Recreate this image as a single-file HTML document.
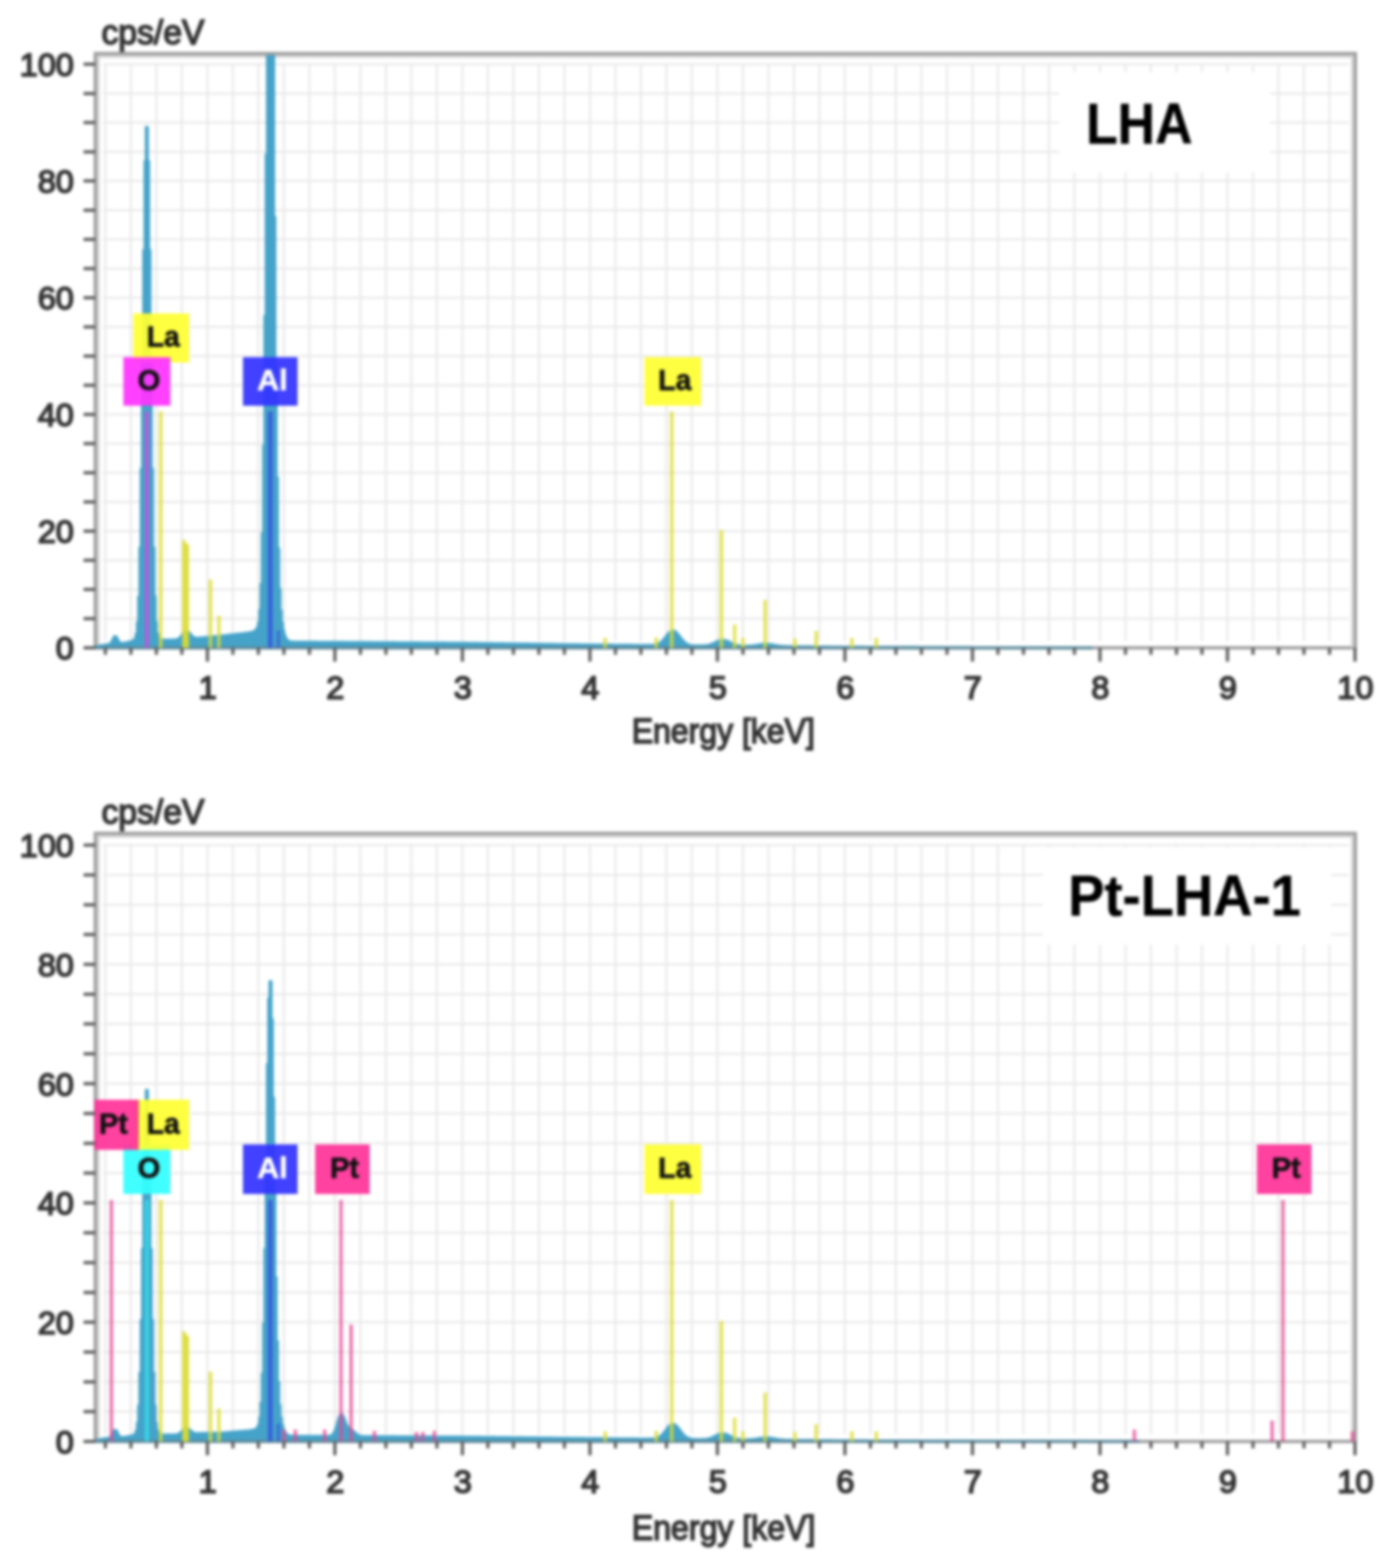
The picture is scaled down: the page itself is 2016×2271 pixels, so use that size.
<!DOCTYPE html>
<html><head><meta charset="utf-8"><title>EDS spectra</title>
<style>html,body{margin:0;padding:0;background:#fff;overflow:hidden;}svg{display:block;filter:blur(2.20px);}</style>
</head><body>
<svg width="2016" height="2271" viewBox="0 0 2016 2271" font-family="Liberation Sans, Arial, sans-serif" fill="#333333">
<style>text{stroke:#333333;stroke-width:2.3px;} text.lb{stroke-width:0.9px;} text.tt{stroke:#000;stroke-width:0.6px;}</style>
<rect width="100%" height="100%" fill="#fff"/>
<clipPath id="clip_top"><rect x="136.5" y="79.7" width="1826.5" height="860.8"/></clipPath>
<path d="M136.0,938.3H1965.0" stroke="#9a9a9a" stroke-width="4.5" fill="none"/>
<path d="M149.6,896.0H1953.5M149.6,853.8H1953.5M149.6,811.5H1953.5M149.6,769.3H1953.5M149.6,727.0H1953.5M149.6,684.7H1953.5M149.6,642.5H1953.5M149.6,600.2H1953.5M149.6,558.0H1953.5M149.6,515.7H1953.5M149.6,473.4H1953.5M149.6,431.2H1953.5M149.6,388.9H1953.5M149.6,346.7H1953.5M149.6,304.4H1953.5M149.6,262.1H1953.5M149.6,219.9H1953.5M149.6,177.6H1953.5M149.6,135.4H1953.5M149.6,93.1H1953.5M152.6,91.1V928.3M189.6,91.1V928.3M226.5,91.1V928.3M263.4,91.1V928.3M300.4,91.1V928.3M337.3,91.1V928.3M374.2,91.1V928.3M411.2,91.1V928.3M448.1,91.1V928.3M485.0,91.1V928.3M522.0,91.1V928.3M558.9,91.1V928.3M595.8,91.1V928.3M632.8,91.1V928.3M669.7,91.1V928.3M706.6,91.1V928.3M743.6,91.1V928.3M780.5,91.1V928.3M817.4,91.1V928.3M854.4,91.1V928.3M891.3,91.1V928.3M928.2,91.1V928.3M965.2,91.1V928.3M1002.1,91.1V928.3M1039.0,91.1V928.3M1076.0,91.1V928.3M1112.9,91.1V928.3M1149.9,91.1V928.3M1186.8,91.1V928.3M1223.7,91.1V928.3M1260.7,91.1V928.3M1297.6,91.1V928.3M1334.5,91.1V928.3M1371.5,91.1V928.3M1408.4,91.1V928.3M1445.3,91.1V928.3M1482.3,91.1V928.3M1519.2,91.1V928.3M1556.1,91.1V928.3M1593.1,91.1V928.3M1630.0,91.1V928.3M1666.9,91.1V928.3M1703.9,91.1V928.3M1740.8,91.1V928.3M1777.7,91.1V928.3M1814.7,91.1V928.3M1851.6,91.1V928.3M1888.5,91.1V928.3M1925.5,91.1V928.3" stroke="#e9e9e9" stroke-width="3.0" fill="none"/>
<rect x="1534" y="105" width="306" height="145" fill="#fff"/>
<path d="M142.2,938.3V81.8H1958.8V938.3" stroke="#d2d2d2" stroke-width="4.0" fill="none"/>
<path d="M138.0,938.3V77.5H1963.0V938.3" stroke="#9a9a9a" stroke-width="4.5" fill="none"/>
<g clip-path="url(#clip_top)">
<path d="M136.9,938.3 L136.94,937.45 L137.86,937.45 L137.86,937.06 L139.71,937.06 L139.71,936.66 L141.55,936.66 L141.55,936.26 L143.40,936.26 L143.40,935.86 L145.25,935.86 L145.25,935.47 L147.09,935.47 L147.09,935.07 L148.94,935.07 L148.94,934.67 L150.79,934.67 L150.79,934.27 L152.63,934.27 L152.63,933.99 L154.48,933.99 L154.48,933.81 L156.33,933.81 L156.33,933.60 L158.17,933.60 L158.17,933.13 L160.02,933.13 L160.02,931.83 L161.87,931.83 L161.87,928.87 L163.71,928.87 L163.71,924.68 L165.56,924.68 L165.56,921.90 L167.41,921.90 L167.41,922.94 L169.25,922.94 L169.25,926.63 L171.10,926.63 L171.10,929.92 L172.95,929.92 L172.95,931.48 L174.79,931.48 L174.79,931.84 L176.64,931.84 L176.64,931.78 L178.49,931.78 L178.49,931.62 L180.33,931.62 L180.33,931.33 L182.18,931.33 L182.18,930.90 L184.03,930.90 L184.03,930.48 L185.87,930.48 L185.87,930.06 L187.72,930.06 L187.72,929.63 L189.57,929.63 L189.57,929.18 L191.41,929.18 L191.41,928.61 L193.26,928.61 L193.26,927.59 L195.11,927.59 L195.11,925.07 L196.95,925.07 L196.95,918.31 L198.80,918.31 L198.80,901.51 L200.65,901.51 L200.65,864.38 L202.49,864.38 L202.49,793.50 L204.34,793.50 L204.34,679.27 L206.19,679.27 L206.19,526.44 L208.03,526.44 L208.03,362.48 L209.88,362.48 L209.88,233.45 L211.73,233.45 L211.73,184.17 L213.58,184.17 L213.58,233.39 L215.42,233.39 L215.42,362.37 L217.27,362.37 L217.27,526.27 L219.12,526.27 L219.12,679.04 L220.96,679.04 L220.96,793.22 L222.81,793.22 L222.81,864.04 L224.66,864.04 L224.66,901.12 L226.50,901.12 L226.50,917.67 L228.35,917.67 L228.35,924.02 L230.20,924.02 L230.20,926.11 L232.04,926.11 L232.04,926.70 L233.89,926.70 L233.89,926.85 L235.74,926.85 L235.74,926.88 L237.58,926.88 L237.58,926.89 L239.43,926.89 L239.43,926.89 L241.28,926.89 L241.28,926.89 L243.12,926.89 L243.12,926.89 L244.97,926.89 L244.97,926.89 L246.82,926.89 L246.82,926.89 L248.66,926.89 L248.66,926.88 L250.51,926.88 L250.51,926.87 L252.36,926.87 L252.36,926.83 L254.20,926.83 L254.20,926.63 L256.05,926.63 L256.05,926.19 L257.90,926.19 L257.90,925.41 L259.74,925.41 L259.74,924.14 L261.59,924.14 L261.59,922.26 L263.44,922.26 L263.44,919.89 L265.28,919.89 L265.28,917.41 L267.13,917.41 L267.13,915.47 L268.98,915.47 L268.98,914.64 L270.82,914.64 L270.82,915.18 L272.67,915.18 L272.67,916.82 L274.52,916.82 L274.52,919.00 L276.36,919.00 L276.36,921.08 L278.21,921.08 L278.21,922.66 L280.06,922.66 L280.06,923.64 L281.90,923.64 L281.90,924.11 L283.75,924.11 L283.75,924.26 L285.60,924.26 L285.60,924.24 L287.44,924.24 L287.44,924.13 L289.29,924.13 L289.29,924.00 L291.14,924.00 L291.14,923.85 L292.98,923.85 L292.98,923.68 L294.83,923.68 L294.83,923.51 L296.68,923.51 L296.68,923.34 L298.52,923.34 L298.52,923.17 L300.37,923.17 L300.37,923.00 L302.22,923.00 L302.22,922.83 L304.06,922.83 L304.06,922.66 L305.91,922.66 L305.91,922.49 L307.76,922.49 L307.76,922.33 L309.60,922.33 L309.60,922.16 L311.45,922.16 L311.45,921.99 L313.30,921.99 L313.30,921.82 L315.14,921.82 L315.14,921.65 L316.99,921.65 L316.99,921.48 L318.84,921.48 L318.84,921.29 L320.68,921.29 L320.68,921.08 L322.53,921.08 L322.53,920.87 L324.38,920.87 L324.38,920.66 L326.22,920.66 L326.22,920.45 L328.07,920.45 L328.07,920.23 L329.92,920.23 L329.92,920.02 L331.76,920.02 L331.76,919.81 L333.61,919.81 L333.61,919.60 L335.46,919.60 L335.46,919.39 L337.30,919.39 L337.30,919.18 L339.15,919.18 L339.15,918.97 L341.00,918.97 L341.00,918.75 L342.84,918.75 L342.84,918.54 L344.69,918.54 L344.69,918.33 L346.54,918.33 L346.54,918.12 L348.38,918.12 L348.38,917.91 L350.23,917.91 L350.23,917.70 L352.08,917.70 L352.08,917.49 L353.92,917.49 L353.92,917.27 L355.77,917.27 L355.77,917.06 L357.62,917.06 L357.62,916.84 L359.46,916.84 L359.46,916.61 L361.31,916.61 L361.31,916.36 L363.16,916.36 L363.16,916.05 L365.00,916.05 L365.00,915.62 L366.85,915.62 L366.85,914.96 L368.70,914.96 L368.70,913.85 L370.54,913.85 L370.54,912.23 L372.39,912.23 L372.39,909.06 L374.24,909.06 L374.24,901.39 L376.08,901.39 L376.08,883.78 L377.93,883.78 L377.93,845.95 L379.78,845.95 L379.78,772.22 L381.62,772.22 L381.62,645.42 L383.47,645.42 L383.47,457.53 L385.32,457.53 L385.32,224.06 L387.16,224.06 L387.16,77.50 L389.01,77.50 L389.01,77.50 L390.86,77.50 L390.86,77.50 L392.70,77.50 L392.70,77.50 L394.55,77.50 L394.55,77.50 L396.40,77.50 L396.40,314.19 L398.25,314.19 L398.25,530.28 L400.09,530.28 L400.09,691.55 L401.94,691.55 L401.94,794.44 L403.79,794.44 L403.79,852.97 L405.63,852.97 L405.63,884.61 L407.48,884.61 L407.48,902.34 L409.33,902.34 L409.33,913.31 L411.17,913.31 L411.17,920.31 L413.02,920.31 L413.02,924.63 L414.87,924.63 L414.87,927.24 L416.71,927.24 L416.71,928.68 L418.56,928.68 L418.56,929.39 L420.41,929.39 L420.41,929.72 L422.25,929.72 L422.25,929.85 L424.10,929.85 L424.10,929.91 L425.95,929.91 L425.95,929.93 L427.79,929.93 L427.79,929.95 L429.64,929.95 L429.64,929.96 L431.49,929.96 L431.49,929.97 L433.33,929.97 L433.33,929.98 L435.18,929.98 L435.18,929.99 L437.03,929.99 L437.03,930.00 L438.87,930.00 L438.87,930.01 L440.72,930.01 L440.72,930.02 L442.57,930.02 L442.57,930.03 L444.41,930.03 L444.41,930.04 L446.26,930.04 L446.26,930.05 L448.11,930.05 L448.11,930.06 L449.95,930.06 L449.95,930.08 L451.80,930.08 L451.80,930.09 L453.65,930.09 L453.65,930.10 L455.49,930.10 L455.49,930.11 L457.34,930.11 L457.34,930.12 L459.19,930.12 L459.19,930.13 L461.03,930.13 L461.03,930.14 L462.88,930.14 L462.88,930.15 L464.73,930.15 L464.73,930.16 L466.57,930.16 L466.57,930.17 L468.42,930.17 L468.42,930.18 L470.27,930.18 L470.27,930.19 L472.11,930.19 L472.11,930.20 L473.96,930.20 L473.96,930.21 L475.81,930.21 L475.81,930.22 L477.65,930.22 L477.65,930.23 L479.50,930.23 L479.50,930.24 L481.35,930.24 L481.35,930.25 L483.19,930.25 L483.19,930.27 L485.04,930.27 L485.04,930.28 L486.89,930.28 L486.89,930.29 L488.73,930.29 L488.73,930.30 L490.58,930.30 L490.58,930.31 L492.43,930.31 L492.43,930.33 L494.27,930.33 L494.27,930.34 L496.12,930.34 L496.12,930.35 L497.97,930.35 L497.97,930.37 L499.81,930.37 L499.81,930.38 L501.66,930.38 L501.66,930.39 L503.51,930.39 L503.51,930.40 L505.35,930.40 L505.35,930.42 L507.20,930.42 L507.20,930.43 L509.05,930.43 L509.05,930.44 L510.89,930.44 L510.89,930.45 L512.74,930.45 L512.74,930.47 L514.59,930.47 L514.59,930.48 L516.43,930.48 L516.43,930.49 L518.28,930.49 L518.28,930.51 L520.13,930.51 L520.13,930.52 L521.97,930.52 L521.97,930.53 L523.82,930.53 L523.82,930.54 L525.67,930.54 L525.67,930.56 L527.51,930.56 L527.51,930.57 L529.36,930.57 L529.36,930.58 L531.21,930.58 L531.21,930.59 L533.05,930.59 L533.05,930.61 L534.90,930.61 L534.90,930.62 L536.75,930.62 L536.75,930.63 L538.59,930.63 L538.59,930.64 L540.44,930.64 L540.44,930.66 L542.29,930.66 L542.29,930.67 L544.13,930.67 L544.13,930.68 L545.98,930.68 L545.98,930.70 L547.83,930.70 L547.83,930.71 L549.67,930.71 L549.67,930.72 L551.52,930.72 L551.52,930.73 L553.37,930.73 L553.37,930.75 L555.21,930.75 L555.21,930.76 L557.06,930.76 L557.06,930.77 L558.91,930.77 L558.91,930.78 L560.75,930.78 L560.75,930.80 L562.60,930.80 L562.60,930.81 L564.45,930.81 L564.45,930.82 L566.29,930.82 L566.29,930.83 L568.14,930.83 L568.14,930.85 L569.99,930.85 L569.99,930.86 L571.83,930.86 L571.83,930.87 L573.68,930.87 L573.68,930.89 L575.53,930.89 L575.53,930.90 L577.38,930.90 L577.38,930.91 L579.22,930.91 L579.22,930.92 L581.07,930.92 L581.07,930.94 L582.92,930.94 L582.92,930.95 L584.76,930.95 L584.76,930.96 L586.61,930.96 L586.61,930.97 L588.46,930.97 L588.46,930.99 L590.30,930.99 L590.30,931.00 L592.15,931.00 L592.15,931.01 L594.00,931.01 L594.00,931.02 L595.84,931.02 L595.84,931.04 L597.69,931.04 L597.69,931.05 L599.54,931.05 L599.54,931.06 L601.38,931.06 L601.38,931.08 L603.23,931.08 L603.23,931.09 L605.08,931.09 L605.08,931.10 L606.92,931.10 L606.92,931.11 L608.77,931.11 L608.77,931.13 L610.62,931.13 L610.62,931.14 L612.46,931.14 L612.46,931.15 L614.31,931.15 L614.31,931.16 L616.16,931.16 L616.16,931.18 L618.00,931.18 L618.00,931.19 L619.85,931.19 L619.85,931.20 L621.70,931.20 L621.70,931.22 L623.54,931.22 L623.54,931.23 L625.39,931.23 L625.39,931.24 L627.24,931.24 L627.24,931.25 L629.08,931.25 L629.08,931.27 L630.93,931.27 L630.93,931.28 L632.78,931.28 L632.78,931.29 L634.62,931.29 L634.62,931.30 L636.47,931.30 L636.47,931.32 L638.32,931.32 L638.32,931.33 L640.16,931.33 L640.16,931.34 L642.01,931.34 L642.01,931.35 L643.86,931.35 L643.86,931.37 L645.70,931.37 L645.70,931.38 L647.55,931.38 L647.55,931.39 L649.40,931.39 L649.40,931.41 L651.24,931.41 L651.24,931.42 L653.09,931.42 L653.09,931.43 L654.94,931.43 L654.94,931.44 L656.78,931.44 L656.78,931.46 L658.63,931.46 L658.63,931.47 L660.48,931.47 L660.48,931.48 L662.32,931.48 L662.32,931.49 L664.17,931.49 L664.17,931.51 L666.02,931.51 L666.02,931.52 L667.86,931.52 L667.86,931.53 L669.71,931.53 L669.71,931.55 L671.56,931.55 L671.56,931.58 L673.40,931.58 L673.40,931.60 L675.25,931.60 L675.25,931.63 L677.10,931.63 L677.10,931.65 L678.94,931.65 L678.94,931.68 L680.79,931.68 L680.79,931.70 L682.64,931.70 L682.64,931.73 L684.48,931.73 L684.48,931.75 L686.33,931.75 L686.33,931.78 L688.18,931.78 L688.18,931.80 L690.02,931.80 L690.02,931.83 L691.87,931.83 L691.87,931.86 L693.72,931.86 L693.72,931.88 L695.56,931.88 L695.56,931.91 L697.41,931.91 L697.41,931.93 L699.26,931.93 L699.26,931.96 L701.10,931.96 L701.10,931.98 L702.95,931.98 L702.95,932.01 L704.80,932.01 L704.80,932.03 L706.64,932.03 L706.64,932.06 L708.49,932.06 L708.49,932.08 L710.34,932.08 L710.34,932.11 L712.18,932.11 L712.18,932.13 L714.03,932.13 L714.03,932.16 L715.88,932.16 L715.88,932.18 L717.72,932.18 L717.72,932.21 L719.57,932.21 L719.57,932.24 L721.42,932.24 L721.42,932.26 L723.26,932.26 L723.26,932.29 L725.11,932.29 L725.11,932.31 L726.96,932.31 L726.96,932.34 L728.80,932.34 L728.80,932.36 L730.65,932.36 L730.65,932.39 L732.50,932.39 L732.50,932.41 L734.34,932.41 L734.34,932.44 L736.19,932.44 L736.19,932.46 L738.04,932.46 L738.04,932.49 L739.88,932.49 L739.88,932.51 L741.73,932.51 L741.73,932.54 L743.58,932.54 L743.58,932.57 L745.42,932.57 L745.42,932.59 L747.27,932.59 L747.27,932.62 L749.12,932.62 L749.12,932.64 L750.96,932.64 L750.96,932.67 L752.81,932.67 L752.81,932.69 L754.66,932.69 L754.66,932.72 L756.50,932.72 L756.50,932.74 L758.35,932.74 L758.35,932.77 L760.20,932.77 L760.20,932.79 L762.04,932.79 L762.04,932.82 L763.89,932.82 L763.89,932.84 L765.74,932.84 L765.74,932.87 L767.59,932.87 L767.59,932.89 L769.43,932.89 L769.43,932.92 L771.28,932.92 L771.28,932.95 L773.13,932.95 L773.13,932.97 L774.97,932.97 L774.97,933.00 L776.82,933.00 L776.82,933.02 L778.67,933.02 L778.67,933.05 L780.51,933.05 L780.51,933.07 L782.36,933.07 L782.36,933.10 L784.21,933.10 L784.21,933.12 L786.05,933.12 L786.05,933.15 L787.90,933.15 L787.90,933.17 L789.75,933.17 L789.75,933.20 L791.59,933.20 L791.59,933.22 L793.44,933.22 L793.44,933.25 L795.29,933.25 L795.29,933.28 L797.13,933.28 L797.13,933.30 L798.98,933.30 L798.98,933.33 L800.83,933.33 L800.83,933.35 L802.67,933.35 L802.67,933.38 L804.52,933.38 L804.52,933.40 L806.37,933.40 L806.37,933.43 L808.21,933.43 L808.21,933.45 L810.06,933.45 L810.06,933.48 L811.91,933.48 L811.91,933.50 L813.75,933.50 L813.75,933.53 L815.60,933.53 L815.60,933.55 L817.45,933.55 L817.45,933.58 L819.29,933.58 L819.29,933.60 L821.14,933.60 L821.14,933.63 L822.99,933.63 L822.99,933.66 L824.83,933.66 L824.83,933.68 L826.68,933.68 L826.68,933.71 L828.53,933.71 L828.53,933.73 L830.37,933.73 L830.37,933.76 L832.22,933.76 L832.22,933.78 L834.07,933.78 L834.07,933.81 L835.91,933.81 L835.91,933.83 L837.76,933.83 L837.76,933.86 L839.61,933.86 L839.61,933.88 L841.45,933.88 L841.45,933.91 L843.30,933.91 L843.30,933.93 L845.15,933.93 L845.15,933.96 L846.99,933.96 L846.99,933.99 L848.84,933.99 L848.84,934.01 L850.69,934.01 L850.69,934.04 L852.53,934.04 L852.53,934.06 L854.38,934.06 L854.38,934.08 L856.23,934.08 L856.23,934.10 L858.07,934.10 L858.07,934.12 L859.92,934.12 L859.92,934.13 L861.77,934.13 L861.77,934.15 L863.61,934.15 L863.61,934.17 L865.46,934.17 L865.46,934.18 L867.31,934.18 L867.31,934.20 L869.15,934.20 L869.15,934.22 L871.00,934.22 L871.00,934.23 L872.85,934.23 L872.85,934.25 L874.69,934.25 L874.69,934.27 L876.54,934.27 L876.54,934.29 L878.39,934.29 L878.39,934.30 L880.23,934.30 L880.23,934.32 L882.08,934.32 L882.08,934.34 L883.93,934.34 L883.93,934.35 L885.77,934.35 L885.77,934.37 L887.62,934.37 L887.62,934.39 L889.47,934.39 L889.47,934.40 L891.31,934.40 L891.31,934.42 L893.16,934.42 L893.16,934.44 L895.01,934.44 L895.01,934.45 L896.85,934.45 L896.85,934.47 L898.70,934.47 L898.70,934.49 L900.55,934.49 L900.55,934.51 L902.39,934.51 L902.39,934.52 L904.24,934.52 L904.24,934.54 L906.09,934.54 L906.09,934.56 L907.93,934.56 L907.93,934.57 L909.78,934.57 L909.78,934.59 L911.63,934.59 L911.63,934.61 L913.47,934.61 L913.47,934.62 L915.32,934.62 L915.32,934.64 L917.17,934.64 L917.17,934.66 L919.01,934.66 L919.01,934.67 L920.86,934.67 L920.86,934.69 L922.71,934.69 L922.71,934.71 L924.55,934.71 L924.55,934.72 L926.40,934.72 L926.40,934.74 L928.25,934.74 L928.25,934.76 L930.09,934.76 L930.09,934.77 L931.94,934.77 L931.94,934.79 L933.79,934.79 L933.79,934.81 L935.63,934.81 L935.63,934.82 L937.48,934.82 L937.48,934.83 L939.33,934.83 L939.33,934.82 L941.17,934.82 L941.17,934.81 L943.02,934.81 L943.02,934.76 L944.87,934.76 L944.87,934.68 L946.72,934.68 L946.72,934.52 L948.56,934.52 L948.56,934.25 L950.41,934.25 L950.41,933.84 L952.26,933.84 L952.26,933.22 L954.10,933.22 L954.10,932.35 L955.95,932.35 L955.95,931.17 L957.80,931.17 L957.80,929.65 L959.64,929.65 L959.64,927.78 L961.49,927.78 L961.49,925.62 L963.34,925.62 L963.34,923.25 L965.18,923.25 L965.18,920.81 L967.03,920.81 L967.03,918.49 L968.88,918.49 L968.88,916.48 L970.72,916.48 L970.72,914.99 L972.57,914.99 L972.57,914.17 L974.42,914.17 L974.42,914.11 L976.26,914.11 L976.26,914.82 L978.11,914.82 L978.11,916.22 L979.96,916.22 L979.96,918.17 L981.80,918.17 L981.80,920.48 L983.65,920.48 L983.65,922.94 L985.50,922.94 L985.50,925.38 L987.34,925.38 L987.34,927.62 L989.19,927.62 L989.19,929.59 L991.04,929.59 L991.04,931.21 L992.88,931.21 L992.88,932.49 L994.73,932.49 L994.73,933.46 L996.58,933.46 L996.58,934.15 L998.42,934.15 L998.42,934.64 L1000.27,934.64 L1000.27,934.96 L1002.12,934.96 L1002.12,935.17 L1003.96,935.17 L1003.96,935.30 L1005.81,935.30 L1005.81,935.39 L1007.66,935.39 L1007.66,935.44 L1009.50,935.44 L1009.50,935.47 L1011.35,935.47 L1011.35,935.48 L1013.20,935.48 L1013.20,935.48 L1015.04,935.48 L1015.04,935.47 L1016.89,935.47 L1016.89,935.43 L1018.74,935.43 L1018.74,935.35 L1020.58,935.35 L1020.58,935.22 L1022.43,935.22 L1022.43,935.03 L1024.28,935.03 L1024.28,934.76 L1026.12,934.76 L1026.12,934.38 L1027.97,934.38 L1027.97,933.89 L1029.82,933.89 L1029.82,933.27 L1031.66,933.27 L1031.66,932.53 L1033.51,932.53 L1033.51,931.70 L1035.36,931.70 L1035.36,930.80 L1037.20,930.80 L1037.20,929.89 L1039.05,929.89 L1039.05,929.03 L1040.90,929.03 L1040.90,928.29 L1042.74,928.29 L1042.74,927.74 L1044.59,927.74 L1044.59,927.43 L1046.44,927.43 L1046.44,927.39 L1048.28,927.39 L1048.28,927.63 L1050.13,927.63 L1050.13,928.12 L1051.98,928.12 L1051.98,928.82 L1053.82,928.82 L1053.82,929.67 L1055.67,929.67 L1055.67,930.60 L1057.52,930.60 L1057.52,931.54 L1059.36,931.54 L1059.36,932.44 L1061.21,932.44 L1061.21,933.25 L1063.06,933.25 L1063.06,933.95 L1064.90,933.95 L1064.90,934.52 L1066.75,934.52 L1066.75,934.97 L1068.60,934.97 L1068.60,935.32 L1070.44,935.32 L1070.44,935.57 L1072.29,935.57 L1072.29,935.74 L1074.14,935.74 L1074.14,935.86 L1075.98,935.86 L1075.98,935.93 L1077.83,935.93 L1077.83,935.96 L1079.68,935.96 L1079.68,935.97 L1081.52,935.97 L1081.52,935.94 L1083.37,935.94 L1083.37,935.89 L1085.22,935.89 L1085.22,935.80 L1087.06,935.80 L1087.06,935.68 L1088.91,935.68 L1088.91,935.51 L1090.76,935.51 L1090.76,935.31 L1092.60,935.31 L1092.60,935.06 L1094.45,935.06 L1094.45,934.78 L1096.30,934.78 L1096.30,934.46 L1098.14,934.46 L1098.14,934.14 L1099.99,934.14 L1099.99,933.82 L1101.84,933.82 L1101.84,933.52 L1103.68,933.52 L1103.68,933.27 L1105.53,933.27 L1105.53,933.09 L1107.38,933.09 L1107.38,932.98 L1109.22,932.98 L1109.22,932.97 L1111.07,932.97 L1111.07,933.05 L1112.92,933.05 L1112.92,933.22 L1114.76,933.22 L1114.76,933.46 L1116.61,933.46 L1116.61,933.76 L1118.46,933.76 L1118.46,934.10 L1120.30,934.10 L1120.30,934.46 L1122.15,934.46 L1122.15,934.81 L1124.00,934.81 L1124.00,935.14 L1125.84,935.14 L1125.84,935.44 L1127.69,935.44 L1127.69,935.71 L1129.54,935.71 L1129.54,935.93 L1131.38,935.93 L1131.38,936.10 L1133.23,936.10 L1133.23,936.25 L1135.08,936.25 L1135.08,936.36 L1136.93,936.36 L1136.93,936.44 L1138.77,936.44 L1138.77,936.51 L1140.62,936.51 L1140.62,936.55 L1142.47,936.55 L1142.47,936.59 L1144.31,936.59 L1144.31,936.62 L1146.16,936.62 L1146.16,936.64 L1148.01,936.64 L1148.01,936.66 L1149.85,936.66 L1149.85,936.68 L1151.70,936.68 L1151.70,936.70 L1153.55,936.70 L1153.55,936.71 L1155.39,936.71 L1155.39,936.73 L1157.24,936.73 L1157.24,936.75 L1159.09,936.75 L1159.09,936.76 L1160.93,936.76 L1160.93,936.78 L1162.78,936.78 L1162.78,936.79 L1164.63,936.79 L1164.63,936.81 L1166.47,936.81 L1166.47,936.82 L1168.32,936.82 L1168.32,936.84 L1170.17,936.84 L1170.17,936.85 L1172.01,936.85 L1172.01,936.87 L1173.86,936.87 L1173.86,936.88 L1175.71,936.88 L1175.71,936.90 L1177.55,936.90 L1177.55,936.91 L1179.40,936.91 L1179.40,936.93 L1181.25,936.93 L1181.25,936.94 L1183.09,936.94 L1183.09,936.96 L1184.94,936.96 L1184.94,936.97 L1186.79,936.97 L1186.79,936.99 L1188.63,936.99 L1188.63,937.00 L1190.48,937.00 L1190.48,937.02 L1192.33,937.02 L1192.33,937.03 L1194.17,937.03 L1194.17,937.05 L1196.02,937.05 L1196.02,937.07 L1197.87,937.07 L1197.87,937.08 L1199.71,937.08 L1199.71,937.10 L1201.56,937.10 L1201.56,937.11 L1203.41,937.11 L1203.41,937.13 L1205.25,937.13 L1205.25,937.14 L1207.10,937.14 L1207.10,937.16 L1208.95,937.16 L1208.95,937.17 L1210.79,937.17 L1210.79,937.19 L1212.64,937.19 L1212.64,937.20 L1214.49,937.20 L1214.49,937.22 L1216.33,937.22 L1216.33,937.23 L1218.18,937.23 L1218.18,937.25 L1220.03,937.25 L1220.03,937.26 L1221.87,937.26 L1221.87,937.28 L1223.72,937.28 L1223.72,937.29 L1225.57,937.29 L1225.57,937.29 L1227.41,937.29 L1227.41,937.30 L1229.26,937.30 L1229.26,937.31 L1231.11,937.31 L1231.11,937.31 L1232.95,937.31 L1232.95,937.32 L1234.80,937.32 L1234.80,937.32 L1236.65,937.32 L1236.65,937.33 L1238.49,937.33 L1238.49,937.34 L1240.34,937.34 L1240.34,937.34 L1242.19,937.34 L1242.19,937.35 L1244.03,937.35 L1244.03,937.35 L1245.88,937.35 L1245.88,937.36 L1247.73,937.36 L1247.73,937.37 L1249.57,937.37 L1249.57,937.37 L1251.42,937.37 L1251.42,937.38 L1253.27,937.38 L1253.27,937.38 L1255.11,937.38 L1255.11,937.39 L1256.96,937.39 L1256.96,937.40 L1258.81,937.40 L1258.81,937.40 L1260.65,937.40 L1260.65,937.41 L1262.50,937.41 L1262.50,937.41 L1264.35,937.41 L1264.35,937.42 L1266.19,937.42 L1266.19,937.42 L1268.04,937.42 L1268.04,937.43 L1269.89,937.43 L1269.89,937.44 L1271.73,937.44 L1271.73,937.44 L1273.58,937.44 L1273.58,937.45 L1275.43,937.45 L1275.43,937.45 L1277.27,937.45 L1277.27,937.46 L1279.12,937.46 L1279.12,937.47 L1280.97,937.47 L1280.97,937.47 L1282.81,937.47 L1282.81,937.48 L1284.66,937.48 L1284.66,937.48 L1286.51,937.48 L1286.51,937.49 L1288.35,937.49 L1288.35,937.50 L1290.20,937.50 L1290.20,937.50 L1292.05,937.50 L1292.05,937.51 L1293.89,937.51 L1293.89,937.51 L1295.74,937.51 L1295.74,937.52 L1297.59,937.52 L1297.59,937.53 L1299.43,937.53 L1299.43,937.53 L1301.28,937.53 L1301.28,937.54 L1303.13,937.54 L1303.13,937.54 L1304.97,937.54 L1304.97,937.55 L1306.82,937.55 L1306.82,937.55 L1308.67,937.55 L1308.67,937.56 L1310.51,937.56 L1310.51,937.57 L1312.36,937.57 L1312.36,937.57 L1314.21,937.57 L1314.21,937.58 L1316.06,937.58 L1316.06,937.58 L1317.90,937.58 L1317.90,937.59 L1319.75,937.59 L1319.75,937.60 L1321.60,937.60 L1321.60,937.60 L1323.44,937.60 L1323.44,937.61 L1325.29,937.61 L1325.29,937.61 L1327.14,937.61 L1327.14,937.62 L1328.98,937.62 L1328.98,937.63 L1330.83,937.63 L1330.83,937.63 L1332.68,937.63 L1332.68,937.64 L1334.52,937.64 L1334.52,937.64 L1336.37,937.64 L1336.37,937.65 L1338.22,937.65 L1338.22,937.66 L1340.06,937.66 L1340.06,937.66 L1341.91,937.66 L1341.91,937.67 L1343.76,937.67 L1343.76,937.67 L1345.60,937.67 L1345.60,937.68 L1347.45,937.68 L1347.45,937.69 L1349.30,937.69 L1349.30,937.69 L1351.14,937.69 L1351.14,937.70 L1352.99,937.70 L1352.99,937.70 L1354.84,937.70 L1354.84,937.71 L1356.68,937.71 L1356.68,937.71 L1358.53,937.71 L1358.53,937.72 L1360.38,937.72 L1360.38,937.73 L1362.22,937.73 L1362.22,937.73 L1364.07,937.73 L1364.07,937.74 L1365.92,937.74 L1365.92,937.74 L1367.76,937.74 L1367.76,937.75 L1369.61,937.75 L1369.61,937.76 L1371.46,937.76 L1371.46,937.76 L1373.30,937.76 L1373.30,937.77 L1375.15,937.77 L1375.15,937.77 L1377.00,937.77 L1377.00,937.78 L1378.84,937.78 L1378.84,937.79 L1380.69,937.79 L1380.69,937.79 L1382.54,937.79 L1382.54,937.80 L1384.38,937.80 L1384.38,937.80 L1386.23,937.80 L1386.23,937.81 L1388.08,937.81 L1388.08,937.82 L1389.92,937.82 L1389.92,937.82 L1391.77,937.82 L1391.77,937.83 L1393.62,937.83 L1393.62,937.83 L1395.46,937.83 L1395.46,937.84 L1397.31,937.84 L1397.31,937.84 L1399.16,937.84 L1399.16,937.85 L1401.00,937.85 L1401.00,937.86 L1402.85,937.86 L1402.85,937.86 L1404.70,937.86 L1404.70,937.87 L1406.54,937.87 L1406.54,937.87 L1408.39,937.87 L1408.39,937.88 L1410.24,937.88 L1410.24,937.88 L1412.08,937.88 L1412.08,937.88 L1413.93,937.88 L1413.93,937.89 L1415.78,937.89 L1415.78,937.89 L1417.62,937.89 L1417.62,937.89 L1419.47,937.89 L1419.47,937.90 L1421.32,937.90 L1421.32,937.90 L1423.16,937.90 L1423.16,937.90 L1425.01,937.90 L1425.01,937.90 L1426.86,937.90 L1426.86,937.91 L1428.70,937.91 L1428.70,937.91 L1430.55,937.91 L1430.55,937.91 L1432.40,937.91 L1432.40,937.92 L1434.24,937.92 L1434.24,937.92 L1436.09,937.92 L1436.09,937.92 L1437.94,937.92 L1437.94,937.92 L1439.78,937.92 L1439.78,937.93 L1441.63,937.93 L1441.63,937.93 L1443.48,937.93 L1443.48,937.93 L1445.32,937.93 L1445.32,937.94 L1447.17,937.94 L1447.17,937.94 L1449.02,937.94 L1449.02,937.94 L1450.86,937.94 L1450.86,937.94 L1452.71,937.94 L1452.71,937.95 L1454.56,937.95 L1454.56,937.95 L1456.40,937.95 L1456.40,937.95 L1458.25,937.95 L1458.25,937.95 L1460.10,937.95 L1460.10,937.96 L1461.94,937.96 L1461.94,937.96 L1463.79,937.96 L1463.79,937.96 L1465.64,937.96 L1465.64,937.97 L1467.48,937.97 L1467.48,937.97 L1469.33,937.97 L1469.33,937.97 L1471.18,937.97 L1471.18,937.97 L1473.02,937.97 L1473.02,937.98 L1474.87,937.98 L1474.87,937.98 L1476.72,937.98 L1476.72,937.98 L1478.56,937.98 L1478.56,937.99 L1480.41,937.99 L1480.41,937.99 L1482.26,937.99 L1482.26,937.99 L1484.10,937.99 L1484.10,937.99 L1485.95,937.99 L1485.95,938.00 L1487.80,938.00 L1487.80,938.00 L1489.64,938.00 L1489.64,938.00 L1491.49,938.00 L1491.49,938.01 L1493.34,938.01 L1493.34,938.01 L1495.18,938.01 L1495.18,938.01 L1497.03,938.01 L1497.03,938.01 L1498.88,938.01 L1498.88,938.02 L1500.72,938.02 L1500.72,938.02 L1502.57,938.02 L1502.57,938.02 L1504.42,938.02 L1504.42,938.03 L1506.27,938.03 L1506.27,938.03 L1508.11,938.03 L1508.11,938.03 L1509.96,938.03 L1509.96,938.03 L1511.81,938.03 L1511.81,938.04 L1513.65,938.04 L1513.65,938.04 L1515.50,938.04 L1515.50,938.04 L1517.35,938.04 L1517.35,938.05 L1519.19,938.05 L1519.19,938.05 L1521.04,938.05 L1521.04,938.05 L1522.89,938.05 L1522.89,938.05 L1524.73,938.05 L1524.73,938.06 L1526.58,938.06 L1526.58,938.06 L1528.43,938.06 L1528.43,938.06 L1530.27,938.06 L1530.27,938.06 L1532.12,938.06 L1532.12,938.07 L1533.97,938.07 L1533.97,938.07 L1535.81,938.07 L1535.81,938.07 L1537.66,938.07 L1537.66,938.08 L1539.51,938.08 L1539.51,938.08 L1541.35,938.08 L1541.35,938.08 L1543.20,938.08 L1543.20,938.08 L1545.05,938.08 L1545.05,938.09 L1546.89,938.09 L1546.89,938.09 L1548.74,938.09 L1548.74,938.09 L1550.59,938.09 L1550.59,938.10 L1552.43,938.10 L1552.43,938.10 L1554.28,938.10 L1554.28,938.10 L1556.13,938.10 L1556.13,938.10 L1557.97,938.10 L1557.97,938.11 L1559.82,938.11 L1559.82,938.11 L1561.67,938.11 L1561.67,938.11 L1563.51,938.11 L1563.51,938.12 L1565.36,938.12 L1565.36,938.12 L1567.21,938.12 L1567.21,938.12 L1569.05,938.12 L1569.05,938.12 L1570.90,938.12 L1570.90,938.13 L1572.75,938.13 L1572.75,938.13 L1574.59,938.13 L1574.59,938.13 L1576.44,938.13 L1576.44,938.14 L1578.29,938.14 L1578.29,938.14 L1580.13,938.14 L1580.1,938.3 Z" fill="#45a3c9" stroke="#45a3c9" stroke-width="4.0" stroke-linejoin="round"/>
<rect x="138.0" y="936.3" width="1444.1" height="4.5" fill="#5f8a9a"/>
<rect x="230.3" y="596.0" width="5.0" height="342.3" fill="#dcdc30" fill-opacity="0.80"/>
<rect x="263.7" y="781.9" width="5.0" height="156.4" fill="#dcdc30" fill-opacity="0.80"/>
<rect x="266.3" y="786.2" width="5.0" height="152.1" fill="#dcdc30" fill-opacity="0.80"/>
<rect x="268.9" y="788.7" width="5.0" height="149.6" fill="#dcdc30" fill-opacity="0.80"/>
<rect x="302.3" y="839.4" width="5.0" height="98.9" fill="#dcdc30" fill-opacity="0.80"/>
<rect x="314.5" y="891.8" width="5.0" height="46.5" fill="#dcdc30" fill-opacity="0.80"/>
<rect x="874.0" y="923.9" width="5.0" height="14.4" fill="#dcdc30" fill-opacity="0.80"/>
<rect x="947.9" y="923.1" width="5.0" height="15.2" fill="#dcdc30" fill-opacity="0.80"/>
<rect x="970.3" y="596.0" width="5.0" height="342.3" fill="#dcdc30" fill-opacity="0.80"/>
<rect x="1042.3" y="767.6" width="5.0" height="170.7" fill="#dcdc30" fill-opacity="0.80"/>
<rect x="1061.5" y="904.5" width="5.0" height="33.8" fill="#dcdc30" fill-opacity="0.80"/>
<rect x="1073.5" y="923.9" width="5.0" height="14.4" fill="#dcdc30" fill-opacity="0.80"/>
<rect x="1105.6" y="869.0" width="5.0" height="69.3" fill="#dcdc30" fill-opacity="0.80"/>
<rect x="1148.6" y="924.8" width="5.0" height="13.5" fill="#dcdc30" fill-opacity="0.80"/>
<rect x="1179.5" y="913.8" width="5.0" height="24.5" fill="#dcdc30" fill-opacity="0.80"/>
<rect x="1231.2" y="923.9" width="5.0" height="14.4" fill="#dcdc30" fill-opacity="0.80"/>
<rect x="1266.6" y="923.9" width="5.0" height="14.4" fill="#dcdc30" fill-opacity="0.80"/>
<rect x="209.7" y="596.0" width="6.0" height="342.3" fill="#e040e0" fill-opacity="0.70"/>
<rect x="387.9" y="596.0" width="7.0" height="342.3" fill="#3050e0" fill-opacity="0.75"/>
<rect x="400.7" y="912.9" width="5.0" height="25.4" fill="#3050e0" fill-opacity="0.60"/>
<rect x="193.0" y="454.0" width="81.0" height="71.0" fill="#ffff33" fill-opacity="0.93"/>
<text class="lb" x="236.5" y="502.0" font-family="Liberation Sans, Arial, sans-serif" font-weight="bold" font-size="43" fill="#111" style="stroke:#111" text-anchor="middle" textLength="48" lengthAdjust="spacingAndGlyphs">La</text>
<rect x="178.7" y="517.4" width="68.0" height="70.2" fill="#ff33ff" fill-opacity="0.93"/>
<text class="lb" x="215.7" y="565.0" font-family="Liberation Sans, Arial, sans-serif" font-weight="bold" font-size="43" fill="#111" style="stroke:#111" text-anchor="middle" textLength="33" lengthAdjust="spacingAndGlyphs">O</text>
<rect x="351.9" y="517.4" width="79.0" height="70.2" fill="#3333ff" fill-opacity="0.93"/>
<text class="lb" x="394.4" y="565.0" font-family="Liberation Sans, Arial, sans-serif" font-weight="bold" font-size="43" fill="#fff" style="stroke:#fff" text-anchor="middle" textLength="44" lengthAdjust="spacingAndGlyphs">Al</text>
<rect x="933.3" y="517.4" width="82.0" height="70.2" fill="#ffff33" fill-opacity="0.93"/>
<text class="lb" x="977.3" y="565.0" font-family="Liberation Sans, Arial, sans-serif" font-weight="bold" font-size="43" fill="#111" style="stroke:#111" text-anchor="middle" textLength="48" lengthAdjust="spacingAndGlyphs">La</text>
</g>
<path d="M121.0,938.3H138.0M121.0,896.0H138.0M121.0,853.8H138.0M121.0,811.5H138.0M121.0,769.3H138.0M121.0,727.0H138.0M121.0,684.7H138.0M121.0,642.5H138.0M121.0,600.2H138.0M121.0,558.0H138.0M121.0,515.7H138.0M121.0,473.4H138.0M121.0,431.2H138.0M121.0,388.9H138.0M121.0,346.7H138.0M121.0,304.4H138.0M121.0,262.1H138.0M121.0,219.9H138.0M121.0,177.6H138.0M121.0,135.4H138.0M121.0,93.1H138.0M152.6,938.3V948.3M189.6,938.3V948.3M226.5,938.3V948.3M263.4,938.3V948.3M300.4,938.3V958.3M337.3,938.3V948.3M374.2,938.3V948.3M411.2,938.3V948.3M448.1,938.3V948.3M485.0,938.3V958.3M522.0,938.3V948.3M558.9,938.3V948.3M595.8,938.3V948.3M632.8,938.3V948.3M669.7,938.3V958.3M706.6,938.3V948.3M743.6,938.3V948.3M780.5,938.3V948.3M817.4,938.3V948.3M854.4,938.3V958.3M891.3,938.3V948.3M928.2,938.3V948.3M965.2,938.3V948.3M1002.1,938.3V948.3M1039.0,938.3V958.3M1076.0,938.3V948.3M1112.9,938.3V948.3M1149.9,938.3V948.3M1186.8,938.3V948.3M1223.7,938.3V958.3M1260.7,938.3V948.3M1297.6,938.3V948.3M1334.5,938.3V948.3M1371.5,938.3V948.3M1408.4,938.3V958.3M1445.3,938.3V948.3M1482.3,938.3V948.3M1519.2,938.3V948.3M1556.1,938.3V948.3M1593.1,938.3V958.3M1630.0,938.3V948.3M1666.9,938.3V948.3M1703.9,938.3V948.3M1740.8,938.3V948.3M1777.7,938.3V958.3M1814.7,938.3V948.3M1851.6,938.3V948.3M1888.5,938.3V948.3M1925.5,938.3V948.3M1962.4,938.3V958.3" stroke="#5a5a5a" stroke-width="4.5" fill="none"/>
<text x="107" y="955.3" font-size="47" text-anchor="end">0</text>
<text x="107" y="786.3" font-size="47" text-anchor="end">20</text>
<text x="107" y="617.2" font-size="47" text-anchor="end">40</text>
<text x="107" y="448.2" font-size="47" text-anchor="end">60</text>
<text x="107" y="279.1" font-size="47" text-anchor="end">80</text>
<text x="107" y="110.1" font-size="47" text-anchor="end">100</text>
<text x="300.9" y="1012.0" font-size="47" text-anchor="middle">1</text>
<text x="485.5" y="1012.0" font-size="47" text-anchor="middle">2</text>
<text x="670.2" y="1012.0" font-size="47" text-anchor="middle">3</text>
<text x="854.9" y="1012.0" font-size="47" text-anchor="middle">4</text>
<text x="1039.5" y="1012.0" font-size="47" text-anchor="middle">5</text>
<text x="1224.2" y="1012.0" font-size="47" text-anchor="middle">6</text>
<text x="1408.9" y="1012.0" font-size="47" text-anchor="middle">7</text>
<text x="1593.6" y="1012.0" font-size="47" text-anchor="middle">8</text>
<text x="1778.2" y="1012.0" font-size="47" text-anchor="middle">9</text>
<text x="1962.9" y="1012.0" font-size="47" text-anchor="middle">10</text>
<text x="147" y="64.0" font-size="50" textLength="149" lengthAdjust="spacingAndGlyphs">cps/eV</text>
<text x="915" y="1076.0" font-size="50" textLength="265" lengthAdjust="spacingAndGlyphs">Energy [keV]</text>
<text class="tt" x="1573" y="207.5" font-size="83" font-weight="bold" fill="#000" textLength="154" lengthAdjust="spacingAndGlyphs">LHA</text>
<clipPath id="clip_bot"><rect x="136.5" y="1209.2" width="1826.5" height="880.8"/></clipPath>
<path d="M136.0,2087.8H1965.0" stroke="#9a9a9a" stroke-width="4.5" fill="none"/>
<path d="M149.6,2044.6H1953.5M149.6,2001.4H1953.5M149.6,1958.2H1953.5M149.6,1915.0H1953.5M149.6,1871.9H1953.5M149.6,1828.7H1953.5M149.6,1785.5H1953.5M149.6,1742.3H1953.5M149.6,1699.1H1953.5M149.6,1655.9H1953.5M149.6,1612.7H1953.5M149.6,1569.5H1953.5M149.6,1526.3H1953.5M149.6,1483.1H1953.5M149.6,1440.0H1953.5M149.6,1396.8H1953.5M149.6,1353.6H1953.5M149.6,1310.4H1953.5M149.6,1267.2H1953.5M149.6,1224.0H1953.5M152.6,1222.0V2077.8M189.6,1222.0V2077.8M226.5,1222.0V2077.8M263.4,1222.0V2077.8M300.4,1222.0V2077.8M337.3,1222.0V2077.8M374.2,1222.0V2077.8M411.2,1222.0V2077.8M448.1,1222.0V2077.8M485.0,1222.0V2077.8M522.0,1222.0V2077.8M558.9,1222.0V2077.8M595.8,1222.0V2077.8M632.8,1222.0V2077.8M669.7,1222.0V2077.8M706.6,1222.0V2077.8M743.6,1222.0V2077.8M780.5,1222.0V2077.8M817.4,1222.0V2077.8M854.4,1222.0V2077.8M891.3,1222.0V2077.8M928.2,1222.0V2077.8M965.2,1222.0V2077.8M1002.1,1222.0V2077.8M1039.0,1222.0V2077.8M1076.0,1222.0V2077.8M1112.9,1222.0V2077.8M1149.9,1222.0V2077.8M1186.8,1222.0V2077.8M1223.7,1222.0V2077.8M1260.7,1222.0V2077.8M1297.6,1222.0V2077.8M1334.5,1222.0V2077.8M1371.5,1222.0V2077.8M1408.4,1222.0V2077.8M1445.3,1222.0V2077.8M1482.3,1222.0V2077.8M1519.2,1222.0V2077.8M1556.1,1222.0V2077.8M1593.1,1222.0V2077.8M1630.0,1222.0V2077.8M1666.9,1222.0V2077.8M1703.9,1222.0V2077.8M1740.8,1222.0V2077.8M1777.7,1222.0V2077.8M1814.7,1222.0V2077.8M1851.6,1222.0V2077.8M1888.5,1222.0V2077.8M1925.5,1222.0V2077.8" stroke="#e9e9e9" stroke-width="3.0" fill="none"/>
<rect x="1510" y="1227" width="418" height="141" fill="#fff"/>
<path d="M142.2,2087.8V1211.2H1958.8V2087.8" stroke="#d2d2d2" stroke-width="4.0" fill="none"/>
<path d="M138.0,2087.8V1207.0H1963.0V2087.8" stroke="#9a9a9a" stroke-width="4.5" fill="none"/>
<g clip-path="url(#clip_bot)">
<path d="M136.9,2087.8 L136.94,2086.94 L137.86,2086.94 L137.86,2086.53 L139.71,2086.53 L139.71,2086.12 L141.55,2086.12 L141.55,2085.72 L143.40,2085.72 L143.40,2085.31 L145.25,2085.31 L145.25,2084.90 L147.09,2084.90 L147.09,2084.50 L148.94,2084.50 L148.94,2084.09 L150.79,2084.09 L150.79,2083.68 L152.63,2083.68 L152.63,2083.42 L154.48,2083.42 L154.48,2083.30 L156.33,2083.30 L156.33,2083.14 L158.17,2083.14 L158.17,2082.72 L160.02,2082.72 L160.02,2081.44 L161.87,2081.44 L161.87,2078.48 L163.71,2078.48 L163.71,2074.26 L165.56,2074.26 L165.56,2071.48 L167.41,2071.48 L167.41,2072.59 L169.25,2072.59 L169.25,2076.42 L171.10,2076.42 L171.10,2079.84 L172.95,2079.84 L172.95,2081.49 L174.79,2081.49 L174.79,2081.92 L176.64,2081.92 L176.64,2081.91 L178.49,2081.91 L178.49,2081.81 L180.33,2081.81 L180.33,2081.58 L182.18,2081.58 L182.18,2081.24 L184.03,2081.24 L184.03,2080.89 L185.87,2080.89 L185.87,2080.54 L187.72,2080.54 L187.72,2080.19 L189.57,2080.19 L189.57,2079.83 L191.41,2079.83 L191.41,2079.38 L193.26,2079.38 L193.26,2078.64 L195.11,2078.64 L195.11,2076.89 L196.95,2076.89 L196.95,2072.28 L198.80,2072.28 L198.80,2060.97 L200.65,2060.97 L200.65,2036.03 L202.49,2036.03 L202.49,1988.42 L204.34,1988.42 L204.34,1911.67 L206.19,1911.67 L206.19,1808.98 L208.03,1808.98 L208.03,1698.81 L209.88,1698.81 L209.88,1612.12 L211.73,1612.12 L211.73,1579.02 L213.58,1579.02 L213.58,1612.12 L215.42,1612.12 L215.42,1698.81 L217.27,1698.81 L217.27,1808.98 L219.12,1808.98 L219.12,1911.67 L220.96,1911.67 L220.96,1988.42 L222.81,1988.42 L222.81,2036.03 L224.66,2036.03 L224.66,2060.97 L226.50,2060.97 L226.50,2072.10 L228.35,2072.10 L228.35,2076.37 L230.20,2076.37 L230.20,2077.77 L232.04,2077.77 L232.04,2078.17 L233.89,2078.17 L233.89,2078.27 L235.74,2078.27 L235.74,2078.29 L237.58,2078.29 L237.58,2078.30 L239.43,2078.30 L239.43,2078.30 L241.28,2078.30 L241.28,2078.30 L243.12,2078.30 L243.12,2078.30 L244.97,2078.30 L244.97,2078.30 L246.82,2078.30 L246.82,2078.30 L248.66,2078.30 L248.66,2078.29 L250.51,2078.29 L250.51,2078.28 L252.36,2078.28 L252.36,2078.25 L254.20,2078.25 L254.20,2078.10 L256.05,2078.10 L256.05,2077.76 L257.90,2077.76 L257.90,2077.16 L259.74,2077.16 L259.74,2076.17 L261.59,2076.17 L261.59,2074.70 L263.44,2074.70 L263.44,2072.84 L265.28,2072.84 L265.28,2070.90 L267.13,2070.90 L267.13,2069.38 L268.98,2069.38 L268.98,2068.74 L270.82,2068.74 L270.82,2069.17 L272.67,2069.17 L272.67,2070.47 L274.52,2070.47 L274.52,2072.19 L276.36,2072.19 L276.36,2073.83 L278.21,2073.83 L278.21,2075.09 L280.06,2075.09 L280.06,2075.86 L281.90,2075.86 L281.90,2076.25 L283.75,2076.25 L283.75,2076.37 L285.60,2076.37 L285.60,2076.36 L287.44,2076.36 L287.44,2076.29 L289.29,2076.29 L289.29,2076.19 L291.14,2076.19 L291.14,2076.12 L292.98,2076.12 L292.98,2076.10 L294.83,2076.10 L294.83,2076.07 L296.68,2076.07 L296.68,2076.04 L298.52,2076.04 L298.52,2076.01 L300.37,2076.01 L300.37,2075.98 L302.22,2075.98 L302.22,2075.95 L304.06,2075.95 L304.06,2075.92 L305.91,2075.92 L305.91,2075.89 L307.76,2075.89 L307.76,2075.87 L309.60,2075.87 L309.60,2075.84 L311.45,2075.84 L311.45,2075.81 L313.30,2075.81 L313.30,2075.78 L315.14,2075.78 L315.14,2075.75 L316.99,2075.75 L316.99,2075.72 L318.84,2075.72 L318.84,2075.63 L320.68,2075.63 L320.68,2075.48 L322.53,2075.48 L322.53,2075.32 L324.38,2075.32 L324.38,2075.17 L326.22,2075.17 L326.22,2075.01 L328.07,2075.01 L328.07,2074.86 L329.92,2074.86 L329.92,2074.70 L331.76,2074.70 L331.76,2074.55 L333.61,2074.55 L333.61,2074.40 L335.46,2074.40 L335.46,2074.24 L337.30,2074.24 L337.30,2074.09 L339.15,2074.09 L339.15,2073.93 L341.00,2073.93 L341.00,2073.78 L342.84,2073.78 L342.84,2073.62 L344.69,2073.62 L344.69,2073.47 L346.54,2073.47 L346.54,2073.32 L348.38,2073.32 L348.38,2073.16 L350.23,2073.16 L350.23,2073.01 L352.08,2073.01 L352.08,2072.85 L353.92,2072.85 L353.92,2072.70 L355.77,2072.70 L355.77,2072.54 L357.62,2072.54 L357.62,2072.38 L359.46,2072.38 L359.46,2072.22 L361.31,2072.22 L361.31,2072.04 L363.16,2072.04 L363.16,2071.83 L365.00,2071.83 L365.00,2071.56 L366.85,2071.56 L366.85,2071.15 L368.70,2071.15 L368.70,2070.49 L370.54,2070.49 L370.54,2069.57 L372.39,2069.57 L372.39,2067.79 L374.24,2067.79 L374.24,2063.45 L376.08,2063.45 L376.08,2053.42 L377.93,2053.42 L377.93,2031.79 L379.78,2031.79 L379.78,1989.55 L381.62,1989.55 L381.62,1916.83 L383.47,1916.83 L383.47,1809.01 L385.32,1809.01 L385.32,1674.98 L387.16,1674.98 L387.16,1541.39 L389.01,1541.39 L389.01,1446.19 L390.86,1446.19 L390.86,1421.56 L392.70,1421.56 L392.70,1476.17 L394.55,1476.17 L394.55,1590.11 L396.40,1590.11 L396.40,1726.42 L398.25,1726.42 L398.25,1850.33 L400.09,1850.33 L400.09,1942.74 L401.94,1942.74 L401.94,2001.68 L403.79,2001.68 L403.79,2035.23 L405.63,2035.23 L405.63,2053.42 L407.48,2053.42 L407.48,2063.71 L409.33,2063.71 L409.33,2070.15 L411.17,2070.15 L411.17,2074.32 L413.02,2074.32 L413.02,2076.90 L414.87,2076.90 L414.87,2078.47 L416.71,2078.47 L416.71,2079.34 L418.56,2079.34 L418.56,2079.77 L420.41,2079.77 L420.41,2079.97 L422.25,2079.97 L422.25,2080.06 L424.10,2080.06 L424.10,2080.09 L425.95,2080.09 L425.95,2080.11 L427.79,2080.11 L427.79,2080.13 L429.64,2080.13 L429.64,2080.14 L431.49,2080.14 L431.49,2080.15 L433.33,2080.15 L433.33,2080.16 L435.18,2080.16 L435.18,2080.17 L437.03,2080.17 L437.03,2080.18 L438.87,2080.18 L438.87,2080.19 L440.72,2080.19 L440.72,2080.20 L442.57,2080.20 L442.57,2080.21 L444.41,2080.21 L444.41,2080.23 L446.26,2080.23 L446.26,2080.24 L448.11,2080.24 L448.11,2080.25 L449.95,2080.25 L449.95,2080.26 L451.80,2080.26 L451.80,2080.27 L453.65,2080.27 L453.65,2080.28 L455.49,2080.28 L455.49,2080.29 L457.34,2080.29 L457.34,2080.30 L459.19,2080.30 L459.19,2080.31 L461.03,2080.31 L461.03,2080.32 L462.88,2080.32 L462.88,2080.33 L464.73,2080.33 L464.73,2080.34 L466.57,2080.34 L466.57,2080.36 L468.42,2080.36 L468.42,2080.37 L470.27,2080.37 L470.27,2080.37 L472.11,2080.37 L472.11,2080.38 L473.96,2080.38 L473.96,2080.35 L475.81,2080.35 L475.81,2080.26 L477.65,2080.26 L477.65,2080.00 L479.50,2080.00 L479.50,2079.33 L481.35,2079.33 L481.35,2077.92 L483.19,2077.92 L483.19,2075.30 L485.04,2075.30 L485.04,2071.13 L486.89,2071.13 L486.89,2065.45 L488.73,2065.45 L488.73,2059.00 L490.58,2059.00 L490.58,2053.19 L492.43,2053.19 L492.43,2049.61 L494.27,2049.61 L494.27,2049.30 L496.12,2049.30 L496.12,2052.14 L497.97,2052.14 L497.97,2056.92 L499.81,2056.92 L499.81,2061.97 L501.66,2061.97 L501.66,2065.97 L503.51,2065.97 L503.51,2068.48 L505.35,2068.48 L505.35,2069.86 L507.20,2069.86 L507.20,2070.83 L509.05,2070.83 L509.05,2071.98 L510.89,2071.98 L510.89,2073.52 L512.74,2073.52 L512.74,2075.31 L514.59,2075.31 L514.59,2077.04 L516.43,2077.04 L516.43,2078.45 L518.28,2078.45 L518.28,2079.45 L520.13,2079.45 L520.13,2080.06 L521.97,2080.06 L521.97,2080.39 L523.82,2080.39 L523.82,2080.55 L525.67,2080.55 L525.67,2080.62 L527.51,2080.62 L527.51,2080.65 L529.36,2080.65 L529.36,2080.67 L531.21,2080.67 L531.21,2080.68 L533.05,2080.68 L533.05,2080.69 L534.90,2080.69 L534.90,2080.70 L536.75,2080.70 L536.75,2080.70 L538.59,2080.70 L538.59,2080.71 L540.44,2080.71 L540.44,2080.72 L542.29,2080.72 L542.29,2080.73 L544.13,2080.73 L544.13,2080.74 L545.98,2080.74 L545.98,2080.75 L547.83,2080.75 L547.83,2080.76 L549.67,2080.76 L549.67,2080.76 L551.52,2080.76 L551.52,2080.77 L553.37,2080.77 L553.37,2080.78 L555.21,2080.78 L555.21,2080.79 L557.06,2080.79 L557.06,2080.80 L558.91,2080.80 L558.91,2080.81 L560.75,2080.81 L560.75,2080.82 L562.60,2080.82 L562.60,2080.82 L564.45,2080.82 L564.45,2080.83 L566.29,2080.83 L566.29,2080.84 L568.14,2080.84 L568.14,2080.85 L569.99,2080.85 L569.99,2080.86 L571.83,2080.86 L571.83,2080.87 L573.68,2080.87 L573.68,2080.88 L575.53,2080.88 L575.53,2080.89 L577.38,2080.89 L577.38,2080.89 L579.22,2080.89 L579.22,2080.90 L581.07,2080.90 L581.07,2080.91 L582.92,2080.91 L582.92,2080.92 L584.76,2080.92 L584.76,2080.93 L586.61,2080.93 L586.61,2080.94 L588.46,2080.94 L588.46,2080.95 L590.30,2080.95 L590.30,2080.95 L592.15,2080.95 L592.15,2080.96 L594.00,2080.96 L594.00,2080.97 L595.84,2080.97 L595.84,2080.98 L597.69,2080.98 L597.69,2080.99 L599.54,2080.99 L599.54,2081.00 L601.38,2081.00 L601.38,2081.01 L603.23,2081.01 L603.23,2081.01 L605.08,2081.01 L605.08,2081.02 L606.92,2081.02 L606.92,2081.03 L608.77,2081.03 L608.77,2081.04 L610.62,2081.04 L610.62,2081.05 L612.46,2081.05 L612.46,2081.06 L614.31,2081.06 L614.31,2081.07 L616.16,2081.07 L616.16,2081.08 L618.00,2081.08 L618.00,2081.08 L619.85,2081.08 L619.85,2081.09 L621.70,2081.09 L621.70,2081.10 L623.54,2081.10 L623.54,2081.11 L625.39,2081.11 L625.39,2081.12 L627.24,2081.12 L627.24,2081.13 L629.08,2081.13 L629.08,2081.14 L630.93,2081.14 L630.93,2081.14 L632.78,2081.14 L632.78,2081.15 L634.62,2081.15 L634.62,2081.16 L636.47,2081.16 L636.47,2081.17 L638.32,2081.17 L638.32,2081.18 L640.16,2081.18 L640.16,2081.19 L642.01,2081.19 L642.01,2081.20 L643.86,2081.20 L643.86,2081.20 L645.70,2081.20 L645.70,2081.21 L647.55,2081.21 L647.55,2081.22 L649.40,2081.22 L649.40,2081.23 L651.24,2081.23 L651.24,2081.24 L653.09,2081.24 L653.09,2081.25 L654.94,2081.25 L654.94,2081.26 L656.78,2081.26 L656.78,2081.27 L658.63,2081.27 L658.63,2081.27 L660.48,2081.27 L660.48,2081.28 L662.32,2081.28 L662.32,2081.29 L664.17,2081.29 L664.17,2081.30 L666.02,2081.30 L666.02,2081.31 L667.86,2081.31 L667.86,2081.32 L669.71,2081.32 L669.71,2081.33 L671.56,2081.33 L671.56,2081.35 L673.40,2081.35 L673.40,2081.38 L675.25,2081.38 L675.25,2081.40 L677.10,2081.40 L677.10,2081.42 L678.94,2081.42 L678.94,2081.44 L680.79,2081.44 L680.79,2081.46 L682.64,2081.46 L682.64,2081.48 L684.48,2081.48 L684.48,2081.51 L686.33,2081.51 L686.33,2081.53 L688.18,2081.53 L688.18,2081.55 L690.02,2081.55 L690.02,2081.57 L691.87,2081.57 L691.87,2081.59 L693.72,2081.59 L693.72,2081.61 L695.56,2081.61 L695.56,2081.63 L697.41,2081.63 L697.41,2081.66 L699.26,2081.66 L699.26,2081.68 L701.10,2081.68 L701.10,2081.70 L702.95,2081.70 L702.95,2081.72 L704.80,2081.72 L704.80,2081.74 L706.64,2081.74 L706.64,2081.76 L708.49,2081.76 L708.49,2081.79 L710.34,2081.79 L710.34,2081.81 L712.18,2081.81 L712.18,2081.83 L714.03,2081.83 L714.03,2081.85 L715.88,2081.85 L715.88,2081.87 L717.72,2081.87 L717.72,2081.89 L719.57,2081.89 L719.57,2081.92 L721.42,2081.92 L721.42,2081.94 L723.26,2081.94 L723.26,2081.96 L725.11,2081.96 L725.11,2081.98 L726.96,2081.98 L726.96,2082.00 L728.80,2082.00 L728.80,2082.02 L730.65,2082.02 L730.65,2082.04 L732.50,2082.04 L732.50,2082.07 L734.34,2082.07 L734.34,2082.09 L736.19,2082.09 L736.19,2082.11 L738.04,2082.11 L738.04,2082.13 L739.88,2082.13 L739.88,2082.15 L741.73,2082.15 L741.73,2082.17 L743.58,2082.17 L743.58,2082.20 L745.42,2082.20 L745.42,2082.22 L747.27,2082.22 L747.27,2082.24 L749.12,2082.24 L749.12,2082.26 L750.96,2082.26 L750.96,2082.28 L752.81,2082.28 L752.81,2082.30 L754.66,2082.30 L754.66,2082.33 L756.50,2082.33 L756.50,2082.35 L758.35,2082.35 L758.35,2082.37 L760.20,2082.37 L760.20,2082.39 L762.04,2082.39 L762.04,2082.41 L763.89,2082.41 L763.89,2082.43 L765.74,2082.43 L765.74,2082.46 L767.59,2082.46 L767.59,2082.48 L769.43,2082.48 L769.43,2082.50 L771.28,2082.50 L771.28,2082.52 L773.13,2082.52 L773.13,2082.54 L774.97,2082.54 L774.97,2082.56 L776.82,2082.56 L776.82,2082.58 L778.67,2082.58 L778.67,2082.61 L780.51,2082.61 L780.51,2082.63 L782.36,2082.63 L782.36,2082.65 L784.21,2082.65 L784.21,2082.67 L786.05,2082.67 L786.05,2082.69 L787.90,2082.69 L787.90,2082.71 L789.75,2082.71 L789.75,2082.74 L791.59,2082.74 L791.59,2082.76 L793.44,2082.76 L793.44,2082.78 L795.29,2082.78 L795.29,2082.80 L797.13,2082.80 L797.13,2082.82 L798.98,2082.82 L798.98,2082.84 L800.83,2082.84 L800.83,2082.87 L802.67,2082.87 L802.67,2082.89 L804.52,2082.89 L804.52,2082.91 L806.37,2082.91 L806.37,2082.93 L808.21,2082.93 L808.21,2082.95 L810.06,2082.95 L810.06,2082.97 L811.91,2082.97 L811.91,2083.00 L813.75,2083.00 L813.75,2083.02 L815.60,2083.02 L815.60,2083.04 L817.45,2083.04 L817.45,2083.06 L819.29,2083.06 L819.29,2083.08 L821.14,2083.08 L821.14,2083.10 L822.99,2083.10 L822.99,2083.12 L824.83,2083.12 L824.83,2083.15 L826.68,2083.15 L826.68,2083.17 L828.53,2083.17 L828.53,2083.19 L830.37,2083.19 L830.37,2083.21 L832.22,2083.21 L832.22,2083.23 L834.07,2083.23 L834.07,2083.25 L835.91,2083.25 L835.91,2083.28 L837.76,2083.28 L837.76,2083.30 L839.61,2083.30 L839.61,2083.32 L841.45,2083.32 L841.45,2083.34 L843.30,2083.34 L843.30,2083.36 L845.15,2083.36 L845.15,2083.38 L846.99,2083.38 L846.99,2083.41 L848.84,2083.41 L848.84,2083.43 L850.69,2083.43 L850.69,2083.45 L852.53,2083.45 L852.53,2083.47 L854.38,2083.47 L854.38,2083.49 L856.23,2083.49 L856.23,2083.51 L858.07,2083.51 L858.07,2083.52 L859.92,2083.52 L859.92,2083.54 L861.77,2083.54 L861.77,2083.56 L863.61,2083.56 L863.61,2083.58 L865.46,2083.58 L865.46,2083.59 L867.31,2083.59 L867.31,2083.61 L869.15,2083.61 L869.15,2083.63 L871.00,2083.63 L871.00,2083.65 L872.85,2083.65 L872.85,2083.66 L874.69,2083.66 L874.69,2083.68 L876.54,2083.68 L876.54,2083.70 L878.39,2083.70 L878.39,2083.71 L880.23,2083.71 L880.23,2083.73 L882.08,2083.73 L882.08,2083.75 L883.93,2083.75 L883.93,2083.77 L885.77,2083.77 L885.77,2083.78 L887.62,2083.78 L887.62,2083.80 L889.47,2083.80 L889.47,2083.82 L891.31,2083.82 L891.31,2083.84 L893.16,2083.84 L893.16,2083.85 L895.01,2083.85 L895.01,2083.87 L896.85,2083.87 L896.85,2083.89 L898.70,2083.89 L898.70,2083.90 L900.55,2083.90 L900.55,2083.92 L902.39,2083.92 L902.39,2083.94 L904.24,2083.94 L904.24,2083.96 L906.09,2083.96 L906.09,2083.97 L907.93,2083.97 L907.93,2083.99 L909.78,2083.99 L909.78,2084.01 L911.63,2084.01 L911.63,2084.03 L913.47,2084.03 L913.47,2084.04 L915.32,2084.04 L915.32,2084.06 L917.17,2084.06 L917.17,2084.08 L919.01,2084.08 L919.01,2084.09 L920.86,2084.09 L920.86,2084.11 L922.71,2084.11 L922.71,2084.13 L924.55,2084.13 L924.55,2084.15 L926.40,2084.15 L926.40,2084.16 L928.25,2084.16 L928.25,2084.18 L930.09,2084.18 L930.09,2084.20 L931.94,2084.20 L931.94,2084.21 L933.79,2084.21 L933.79,2084.23 L935.63,2084.23 L935.63,2084.24 L937.48,2084.24 L937.48,2084.25 L939.33,2084.25 L939.33,2084.25 L941.17,2084.25 L941.17,2084.23 L943.02,2084.23 L943.02,2084.19 L944.87,2084.19 L944.87,2084.10 L946.72,2084.10 L946.72,2083.93 L948.56,2083.93 L948.56,2083.66 L950.41,2083.66 L950.41,2083.24 L952.26,2083.24 L952.26,2082.61 L954.10,2082.61 L954.10,2081.72 L955.95,2081.72 L955.95,2080.51 L957.80,2080.51 L957.80,2078.96 L959.64,2078.96 L959.64,2077.05 L961.49,2077.05 L961.49,2074.84 L963.34,2074.84 L963.34,2072.42 L965.18,2072.42 L965.18,2069.92 L967.03,2069.92 L967.03,2067.55 L968.88,2067.55 L968.88,2065.50 L970.72,2065.50 L970.72,2063.98 L972.57,2063.98 L972.57,2063.14 L974.42,2063.14 L974.42,2063.08 L976.26,2063.08 L976.26,2063.80 L978.11,2063.80 L978.11,2065.23 L979.96,2065.23 L979.96,2067.23 L981.80,2067.23 L981.80,2069.59 L983.65,2069.59 L983.65,2072.10 L985.50,2072.10 L985.50,2074.59 L987.34,2074.59 L987.34,2076.89 L989.19,2076.89 L989.19,2078.89 L991.04,2078.89 L991.04,2080.55 L992.88,2080.55 L992.88,2081.86 L994.73,2081.86 L994.73,2082.85 L996.58,2082.85 L996.58,2083.56 L998.42,2083.56 L998.42,2084.06 L1000.27,2084.06 L1000.27,2084.39 L1002.12,2084.39 L1002.12,2084.60 L1003.96,2084.60 L1003.96,2084.74 L1005.81,2084.74 L1005.81,2084.82 L1007.66,2084.82 L1007.66,2084.88 L1009.50,2084.88 L1009.50,2084.91 L1011.35,2084.91 L1011.35,2084.92 L1013.20,2084.92 L1013.20,2084.92 L1015.04,2084.92 L1015.04,2084.90 L1016.89,2084.90 L1016.89,2084.86 L1018.74,2084.86 L1018.74,2084.78 L1020.58,2084.78 L1020.58,2084.66 L1022.43,2084.66 L1022.43,2084.46 L1024.28,2084.46 L1024.28,2084.18 L1026.12,2084.18 L1026.12,2083.79 L1027.97,2083.79 L1027.97,2083.29 L1029.82,2083.29 L1029.82,2082.66 L1031.66,2082.66 L1031.66,2081.91 L1033.51,2081.91 L1033.51,2081.05 L1035.36,2081.05 L1035.36,2080.13 L1037.20,2080.13 L1037.20,2079.20 L1039.05,2079.20 L1039.05,2078.33 L1040.90,2078.33 L1040.90,2077.57 L1042.74,2077.57 L1042.74,2077.01 L1044.59,2077.01 L1044.59,2076.69 L1046.44,2076.69 L1046.44,2076.65 L1048.28,2076.65 L1048.28,2076.89 L1050.13,2076.89 L1050.13,2077.39 L1051.98,2077.39 L1051.98,2078.11 L1053.82,2078.11 L1053.82,2078.98 L1055.67,2078.98 L1055.67,2079.93 L1057.52,2079.93 L1057.52,2080.89 L1059.36,2080.89 L1059.36,2081.81 L1061.21,2081.81 L1061.21,2082.64 L1063.06,2082.64 L1063.06,2083.35 L1064.90,2083.35 L1064.90,2083.94 L1066.75,2083.94 L1066.75,2084.40 L1068.60,2084.40 L1068.60,2084.75 L1070.44,2084.75 L1070.44,2085.01 L1072.29,2085.01 L1072.29,2085.19 L1074.14,2085.19 L1074.14,2085.31 L1075.98,2085.31 L1075.98,2085.38 L1077.83,2085.38 L1077.83,2085.41 L1079.68,2085.41 L1079.68,2085.42 L1081.52,2085.42 L1081.52,2085.39 L1083.37,2085.39 L1083.37,2085.33 L1085.22,2085.33 L1085.22,2085.25 L1087.06,2085.25 L1087.06,2085.12 L1088.91,2085.12 L1088.91,2084.95 L1090.76,2084.95 L1090.76,2084.74 L1092.60,2084.74 L1092.60,2084.49 L1094.45,2084.49 L1094.45,2084.20 L1096.30,2084.20 L1096.30,2083.88 L1098.14,2083.88 L1098.14,2083.55 L1099.99,2083.55 L1099.99,2083.22 L1101.84,2083.22 L1101.84,2082.92 L1103.68,2082.92 L1103.68,2082.66 L1105.53,2082.66 L1105.53,2082.47 L1107.38,2082.47 L1107.38,2082.37 L1109.22,2082.37 L1109.22,2082.35 L1111.07,2082.35 L1111.07,2082.44 L1112.92,2082.44 L1112.92,2082.61 L1114.76,2082.61 L1114.76,2082.86 L1116.61,2082.86 L1116.61,2083.17 L1118.46,2083.17 L1118.46,2083.51 L1120.30,2083.51 L1120.30,2083.87 L1122.15,2083.87 L1122.15,2084.23 L1124.00,2084.23 L1124.00,2084.57 L1125.84,2084.57 L1125.84,2084.88 L1127.69,2084.88 L1127.69,2085.15 L1129.54,2085.15 L1129.54,2085.37 L1131.38,2085.37 L1131.38,2085.56 L1133.23,2085.56 L1133.23,2085.70 L1135.08,2085.70 L1135.08,2085.81 L1136.93,2085.81 L1136.93,2085.90 L1138.77,2085.90 L1138.77,2085.97 L1140.62,2085.97 L1140.62,2086.01 L1142.47,2086.01 L1142.47,2086.05 L1144.31,2086.05 L1144.31,2086.08 L1146.16,2086.08 L1146.16,2086.11 L1148.01,2086.11 L1148.01,2086.13 L1149.85,2086.13 L1149.85,2086.15 L1151.70,2086.15 L1151.70,2086.16 L1153.55,2086.16 L1153.55,2086.18 L1155.39,2086.18 L1155.39,2086.20 L1157.24,2086.20 L1157.24,2086.21 L1159.09,2086.21 L1159.09,2086.23 L1160.93,2086.23 L1160.93,2086.24 L1162.78,2086.24 L1162.78,2086.26 L1164.63,2086.26 L1164.63,2086.27 L1166.47,2086.27 L1166.47,2086.29 L1168.32,2086.29 L1168.32,2086.30 L1170.17,2086.30 L1170.17,2086.32 L1172.01,2086.32 L1172.01,2086.34 L1173.86,2086.34 L1173.86,2086.35 L1175.71,2086.35 L1175.71,2086.37 L1177.55,2086.37 L1177.55,2086.38 L1179.40,2086.38 L1179.40,2086.40 L1181.25,2086.40 L1181.25,2086.41 L1183.09,2086.41 L1183.09,2086.43 L1184.94,2086.43 L1184.94,2086.44 L1186.79,2086.44 L1186.79,2086.46 L1188.63,2086.46 L1188.63,2086.48 L1190.48,2086.48 L1190.48,2086.49 L1192.33,2086.49 L1192.33,2086.51 L1194.17,2086.51 L1194.17,2086.52 L1196.02,2086.52 L1196.02,2086.54 L1197.87,2086.54 L1197.87,2086.55 L1199.71,2086.55 L1199.71,2086.57 L1201.56,2086.57 L1201.56,2086.58 L1203.41,2086.58 L1203.41,2086.60 L1205.25,2086.60 L1205.25,2086.62 L1207.10,2086.62 L1207.10,2086.63 L1208.95,2086.63 L1208.95,2086.65 L1210.79,2086.65 L1210.79,2086.66 L1212.64,2086.66 L1212.64,2086.68 L1214.49,2086.68 L1214.49,2086.69 L1216.33,2086.69 L1216.33,2086.71 L1218.18,2086.71 L1218.18,2086.72 L1220.03,2086.72 L1220.03,2086.74 L1221.87,2086.74 L1221.87,2086.76 L1223.72,2086.76 L1223.72,2086.77 L1225.57,2086.77 L1225.57,2086.77 L1227.41,2086.77 L1227.41,2086.78 L1229.26,2086.78 L1229.26,2086.78 L1231.11,2086.78 L1231.11,2086.79 L1232.95,2086.79 L1232.95,2086.80 L1234.80,2086.80 L1234.80,2086.80 L1236.65,2086.80 L1236.65,2086.81 L1238.49,2086.81 L1238.49,2086.81 L1240.34,2086.81 L1240.34,2086.82 L1242.19,2086.82 L1242.19,2086.83 L1244.03,2086.83 L1244.03,2086.83 L1245.88,2086.83 L1245.88,2086.84 L1247.73,2086.84 L1247.73,2086.85 L1249.57,2086.85 L1249.57,2086.85 L1251.42,2086.85 L1251.42,2086.86 L1253.27,2086.86 L1253.27,2086.86 L1255.11,2086.86 L1255.11,2086.87 L1256.96,2086.87 L1256.96,2086.88 L1258.81,2086.88 L1258.81,2086.88 L1260.65,2086.88 L1260.65,2086.89 L1262.50,2086.89 L1262.50,2086.89 L1264.35,2086.89 L1264.35,2086.90 L1266.19,2086.90 L1266.19,2086.91 L1268.04,2086.91 L1268.04,2086.91 L1269.89,2086.91 L1269.89,2086.92 L1271.73,2086.92 L1271.73,2086.92 L1273.58,2086.92 L1273.58,2086.93 L1275.43,2086.93 L1275.43,2086.94 L1277.27,2086.94 L1277.27,2086.94 L1279.12,2086.94 L1279.12,2086.95 L1280.97,2086.95 L1280.97,2086.95 L1282.81,2086.95 L1282.81,2086.96 L1284.66,2086.96 L1284.66,2086.97 L1286.51,2086.97 L1286.51,2086.97 L1288.35,2086.97 L1288.35,2086.98 L1290.20,2086.98 L1290.20,2086.98 L1292.05,2086.98 L1292.05,2086.99 L1293.89,2086.99 L1293.89,2087.00 L1295.74,2087.00 L1295.74,2087.00 L1297.59,2087.00 L1297.59,2087.01 L1299.43,2087.01 L1299.43,2087.01 L1301.28,2087.01 L1301.28,2087.02 L1303.13,2087.02 L1303.13,2087.03 L1304.97,2087.03 L1304.97,2087.03 L1306.82,2087.03 L1306.82,2087.04 L1308.67,2087.04 L1308.67,2087.04 L1310.51,2087.04 L1310.51,2087.05 L1312.36,2087.05 L1312.36,2087.06 L1314.21,2087.06 L1314.21,2087.06 L1316.06,2087.06 L1316.06,2087.07 L1317.90,2087.07 L1317.90,2087.07 L1319.75,2087.07 L1319.75,2087.08 L1321.60,2087.08 L1321.60,2087.09 L1323.44,2087.09 L1323.44,2087.09 L1325.29,2087.09 L1325.29,2087.10 L1327.14,2087.10 L1327.14,2087.11 L1328.98,2087.11 L1328.98,2087.11 L1330.83,2087.11 L1330.83,2087.12 L1332.68,2087.12 L1332.68,2087.12 L1334.52,2087.12 L1334.52,2087.13 L1336.37,2087.13 L1336.37,2087.14 L1338.22,2087.14 L1338.22,2087.14 L1340.06,2087.14 L1340.06,2087.15 L1341.91,2087.15 L1341.91,2087.15 L1343.76,2087.15 L1343.76,2087.16 L1345.60,2087.16 L1345.60,2087.17 L1347.45,2087.17 L1347.45,2087.17 L1349.30,2087.17 L1349.30,2087.18 L1351.14,2087.18 L1351.14,2087.18 L1352.99,2087.18 L1352.99,2087.19 L1354.84,2087.19 L1354.84,2087.20 L1356.68,2087.20 L1356.68,2087.20 L1358.53,2087.20 L1358.53,2087.21 L1360.38,2087.21 L1360.38,2087.21 L1362.22,2087.21 L1362.22,2087.22 L1364.07,2087.22 L1364.07,2087.23 L1365.92,2087.23 L1365.92,2087.23 L1367.76,2087.23 L1367.76,2087.24 L1369.61,2087.24 L1369.61,2087.24 L1371.46,2087.24 L1371.46,2087.25 L1373.30,2087.25 L1373.30,2087.26 L1375.15,2087.26 L1375.15,2087.26 L1377.00,2087.26 L1377.00,2087.27 L1378.84,2087.27 L1378.84,2087.27 L1380.69,2087.27 L1380.69,2087.28 L1382.54,2087.28 L1382.54,2087.29 L1384.38,2087.29 L1384.38,2087.29 L1386.23,2087.29 L1386.23,2087.30 L1388.08,2087.30 L1388.08,2087.30 L1389.92,2087.30 L1389.92,2087.31 L1391.77,2087.31 L1391.77,2087.32 L1393.62,2087.32 L1393.62,2087.32 L1395.46,2087.32 L1395.46,2087.33 L1397.31,2087.33 L1397.31,2087.33 L1399.16,2087.33 L1399.16,2087.34 L1401.00,2087.34 L1401.00,2087.35 L1402.85,2087.35 L1402.85,2087.35 L1404.70,2087.35 L1404.70,2087.36 L1406.54,2087.36 L1406.54,2087.37 L1408.39,2087.37 L1408.39,2087.37 L1410.24,2087.37 L1410.24,2087.37 L1412.08,2087.37 L1412.08,2087.38 L1413.93,2087.38 L1413.93,2087.38 L1415.78,2087.38 L1415.78,2087.38 L1417.62,2087.38 L1417.62,2087.38 L1419.47,2087.38 L1419.47,2087.39 L1421.32,2087.39 L1421.32,2087.39 L1423.16,2087.39 L1423.16,2087.39 L1425.01,2087.39 L1425.01,2087.40 L1426.86,2087.40 L1426.86,2087.40 L1428.70,2087.40 L1428.70,2087.40 L1430.55,2087.40 L1430.55,2087.40 L1432.40,2087.40 L1432.40,2087.41 L1434.24,2087.41 L1434.24,2087.41 L1436.09,2087.41 L1436.09,2087.41 L1437.94,2087.41 L1437.94,2087.42 L1439.78,2087.42 L1439.78,2087.42 L1441.63,2087.42 L1441.63,2087.42 L1443.48,2087.42 L1443.48,2087.42 L1445.32,2087.42 L1445.32,2087.43 L1447.17,2087.43 L1447.17,2087.43 L1449.02,2087.43 L1449.02,2087.43 L1450.86,2087.43 L1450.86,2087.44 L1452.71,2087.44 L1452.71,2087.44 L1454.56,2087.44 L1454.56,2087.44 L1456.40,2087.44 L1456.40,2087.44 L1458.25,2087.44 L1458.25,2087.45 L1460.10,2087.45 L1460.10,2087.45 L1461.94,2087.45 L1461.94,2087.45 L1463.79,2087.45 L1463.79,2087.46 L1465.64,2087.46 L1465.64,2087.46 L1467.48,2087.46 L1467.48,2087.46 L1469.33,2087.46 L1469.33,2087.46 L1471.18,2087.46 L1471.18,2087.47 L1473.02,2087.47 L1473.02,2087.47 L1474.87,2087.47 L1474.87,2087.47 L1476.72,2087.47 L1476.72,2087.48 L1478.56,2087.48 L1478.56,2087.48 L1480.41,2087.48 L1480.41,2087.48 L1482.26,2087.48 L1482.26,2087.48 L1484.10,2087.48 L1484.10,2087.49 L1485.95,2087.49 L1485.95,2087.49 L1487.80,2087.49 L1487.80,2087.49 L1489.64,2087.49 L1489.64,2087.50 L1491.49,2087.50 L1491.49,2087.50 L1493.34,2087.50 L1493.34,2087.50 L1495.18,2087.50 L1495.18,2087.50 L1497.03,2087.50 L1497.03,2087.51 L1498.88,2087.51 L1498.88,2087.51 L1500.72,2087.51 L1500.72,2087.51 L1502.57,2087.51 L1502.57,2087.52 L1504.42,2087.52 L1504.42,2087.52 L1506.27,2087.52 L1506.27,2087.52 L1508.11,2087.52 L1508.11,2087.53 L1509.96,2087.53 L1509.96,2087.53 L1511.81,2087.53 L1511.81,2087.53 L1513.65,2087.53 L1513.65,2087.53 L1515.50,2087.53 L1515.50,2087.54 L1517.35,2087.54 L1517.35,2087.54 L1519.19,2087.54 L1519.19,2087.54 L1521.04,2087.54 L1521.04,2087.55 L1522.89,2087.55 L1522.89,2087.55 L1524.73,2087.55 L1524.73,2087.55 L1526.58,2087.55 L1526.58,2087.55 L1528.43,2087.55 L1528.43,2087.56 L1530.27,2087.56 L1530.27,2087.56 L1532.12,2087.56 L1532.12,2087.56 L1533.97,2087.56 L1533.97,2087.57 L1535.81,2087.57 L1535.81,2087.57 L1537.66,2087.57 L1537.66,2087.57 L1539.51,2087.57 L1539.51,2087.57 L1541.35,2087.57 L1541.35,2087.58 L1543.20,2087.58 L1543.20,2087.58 L1545.05,2087.58 L1545.05,2087.58 L1546.89,2087.58 L1546.89,2087.59 L1548.74,2087.59 L1548.74,2087.59 L1550.59,2087.59 L1550.59,2087.59 L1552.43,2087.59 L1552.43,2087.59 L1554.28,2087.59 L1554.28,2087.60 L1556.13,2087.60 L1556.13,2087.60 L1557.97,2087.60 L1557.97,2087.60 L1559.82,2087.60 L1559.82,2087.61 L1561.67,2087.61 L1561.67,2087.61 L1563.51,2087.61 L1563.51,2087.61 L1565.36,2087.61 L1565.36,2087.61 L1567.21,2087.61 L1567.21,2087.62 L1569.05,2087.62 L1569.05,2087.62 L1570.90,2087.62 L1570.90,2087.62 L1572.75,2087.62 L1572.75,2087.63 L1574.59,2087.63 L1574.59,2087.63 L1576.44,2087.63 L1576.44,2087.63 L1578.29,2087.63 L1578.29,2087.63 L1580.13,2087.63 L1580.13,2087.64 L1581.98,2087.64 L1581.98,2087.64 L1583.83,2087.64 L1583.83,2087.64 L1585.67,2087.64 L1585.67,2087.65 L1587.52,2087.65 L1587.52,2087.65 L1589.37,2087.65 L1589.37,2087.65 L1591.21,2087.65 L1591.21,2087.65 L1593.06,2087.65 L1593.06,2087.66 L1594.91,2087.66 L1594.91,2087.66 L1596.75,2087.66 L1596.75,2087.66 L1598.60,2087.66 L1598.60,2087.67 L1600.45,2087.67 L1600.45,2087.67 L1602.29,2087.67 L1602.29,2087.67 L1604.14,2087.67 L1604.14,2087.67 L1605.99,2087.67 L1605.99,2087.68 L1607.83,2087.68 L1607.83,2087.68 L1609.68,2087.68 L1609.68,2087.68 L1611.53,2087.68 L1611.53,2087.69 L1613.37,2087.69 L1613.37,2087.69 L1615.22,2087.69 L1615.22,2087.69 L1617.07,2087.69 L1617.07,2087.69 L1618.91,2087.69 L1618.91,2087.70 L1620.76,2087.70 L1620.76,2087.70 L1622.61,2087.70 L1622.61,2087.70 L1624.45,2087.70 L1624.45,2087.71 L1626.30,2087.71 L1626.30,2087.71 L1628.15,2087.71 L1628.15,2087.71 L1629.99,2087.71 L1629.99,2087.72 L1631.84,2087.72 L1631.84,2087.72 L1633.69,2087.72 L1633.69,2087.72 L1635.53,2087.72 L1635.53,2087.72 L1637.38,2087.72 L1637.38,2087.73 L1639.23,2087.73 L1639.23,2087.73 L1641.07,2087.73 L1641.07,2087.73 L1642.92,2087.73 L1642.92,2087.74 L1644.77,2087.74 L1644.77,2087.74 L1646.61,2087.74 L1646.61,2087.74 L1648.46,2087.74 L1648.5,2087.8 Z" fill="#45a3c9" stroke="#45a3c9" stroke-width="4.0" stroke-linejoin="round"/>
<rect x="138.0" y="2085.8" width="1512.5" height="4.5" fill="#5f8a9a"/>
<rect x="230.3" y="1738.0" width="5.0" height="349.8" fill="#dcdc30" fill-opacity="0.80"/>
<rect x="263.7" y="1928.0" width="5.0" height="159.8" fill="#dcdc30" fill-opacity="0.80"/>
<rect x="266.3" y="1932.3" width="5.0" height="155.5" fill="#dcdc30" fill-opacity="0.80"/>
<rect x="268.9" y="1934.9" width="5.0" height="152.9" fill="#dcdc30" fill-opacity="0.80"/>
<rect x="302.3" y="1986.7" width="5.0" height="101.1" fill="#dcdc30" fill-opacity="0.80"/>
<rect x="314.5" y="2040.3" width="5.0" height="47.5" fill="#dcdc30" fill-opacity="0.80"/>
<rect x="874.0" y="2073.1" width="5.0" height="14.7" fill="#dcdc30" fill-opacity="0.80"/>
<rect x="947.9" y="2072.3" width="5.0" height="15.5" fill="#dcdc30" fill-opacity="0.80"/>
<rect x="970.3" y="1738.0" width="5.0" height="349.8" fill="#dcdc30" fill-opacity="0.80"/>
<rect x="1042.3" y="1913.3" width="5.0" height="174.5" fill="#dcdc30" fill-opacity="0.80"/>
<rect x="1061.5" y="2053.2" width="5.0" height="34.6" fill="#dcdc30" fill-opacity="0.80"/>
<rect x="1073.5" y="2073.1" width="5.0" height="14.7" fill="#dcdc30" fill-opacity="0.80"/>
<rect x="1105.6" y="2017.0" width="5.0" height="70.8" fill="#dcdc30" fill-opacity="0.80"/>
<rect x="1148.6" y="2074.0" width="5.0" height="13.8" fill="#dcdc30" fill-opacity="0.80"/>
<rect x="1179.5" y="2062.7" width="5.0" height="25.1" fill="#dcdc30" fill-opacity="0.80"/>
<rect x="1231.2" y="2073.1" width="5.0" height="14.7" fill="#dcdc30" fill-opacity="0.80"/>
<rect x="1266.6" y="2073.1" width="5.0" height="14.7" fill="#dcdc30" fill-opacity="0.80"/>
<rect x="158.8" y="1738.0" width="5.0" height="349.8" fill="#e44693" fill-opacity="0.75"/>
<rect x="408.7" y="2070.5" width="5.0" height="17.3" fill="#e44693" fill-opacity="0.75"/>
<rect x="425.3" y="2070.5" width="5.0" height="17.3" fill="#e44693" fill-opacity="0.75"/>
<rect x="467.8" y="2070.5" width="5.0" height="17.3" fill="#e44693" fill-opacity="0.75"/>
<rect x="491.4" y="1738.0" width="5.0" height="349.8" fill="#e44693" fill-opacity="0.75"/>
<rect x="506.0" y="1918.5" width="5.0" height="169.3" fill="#e44693" fill-opacity="0.75"/>
<rect x="539.8" y="2072.3" width="5.0" height="15.5" fill="#e44693" fill-opacity="0.75"/>
<rect x="600.7" y="2074.0" width="5.0" height="13.8" fill="#e44693" fill-opacity="0.75"/>
<rect x="610.0" y="2074.0" width="5.0" height="13.8" fill="#e44693" fill-opacity="0.75"/>
<rect x="626.6" y="2072.3" width="5.0" height="15.5" fill="#e44693" fill-opacity="0.75"/>
<rect x="1640.4" y="2070.5" width="5.0" height="17.3" fill="#e44693" fill-opacity="0.75"/>
<rect x="1839.9" y="2057.6" width="5.0" height="30.2" fill="#e44693" fill-opacity="0.75"/>
<rect x="1855.6" y="1738.0" width="5.0" height="349.8" fill="#e44693" fill-opacity="0.75"/>
<rect x="1956.2" y="2073.1" width="5.0" height="14.7" fill="#e44693" fill-opacity="0.75"/>
<rect x="209.7" y="1738.0" width="6.0" height="349.8" fill="#30e8f0" fill-opacity="0.70"/>
<rect x="387.9" y="1738.0" width="7.0" height="349.8" fill="#3050e0" fill-opacity="0.75"/>
<rect x="400.7" y="2061.9" width="5.0" height="25.9" fill="#3050e0" fill-opacity="0.60"/>
<rect x="178.7" y="1657.6" width="68.0" height="71.7" fill="#33ffff" fill-opacity="0.93"/>
<text class="lb" x="215.7" y="1706.0" font-family="Liberation Sans, Arial, sans-serif" font-weight="bold" font-size="43" fill="#111" style="stroke:#111" text-anchor="middle" textLength="33" lengthAdjust="spacingAndGlyphs">O</text>
<rect x="351.9" y="1657.6" width="79.0" height="71.7" fill="#3333ff" fill-opacity="0.93"/>
<text class="lb" x="394.4" y="1706.0" font-family="Liberation Sans, Arial, sans-serif" font-weight="bold" font-size="43" fill="#fff" style="stroke:#fff" text-anchor="middle" textLength="44" lengthAdjust="spacingAndGlyphs">Al</text>
<rect x="456.4" y="1657.6" width="79.0" height="71.7" fill="#ff3399" fill-opacity="0.93"/>
<text class="lb" x="498.9" y="1706.0" font-family="Liberation Sans, Arial, sans-serif" font-weight="bold" font-size="43" fill="#111" style="stroke:#111" text-anchor="middle" textLength="42" lengthAdjust="spacingAndGlyphs">Pt</text>
<rect x="933.3" y="1657.6" width="82.0" height="71.7" fill="#ffff33" fill-opacity="0.93"/>
<text class="lb" x="977.3" y="1706.0" font-family="Liberation Sans, Arial, sans-serif" font-weight="bold" font-size="43" fill="#111" style="stroke:#111" text-anchor="middle" textLength="48" lengthAdjust="spacingAndGlyphs">La</text>
<rect x="1820.3" y="1657.6" width="79.0" height="71.7" fill="#ff3399" fill-opacity="0.93"/>
<text class="lb" x="1862.8" y="1706.0" font-family="Liberation Sans, Arial, sans-serif" font-weight="bold" font-size="43" fill="#111" style="stroke:#111" text-anchor="middle" textLength="42" lengthAdjust="spacingAndGlyphs">Pt</text>
<rect x="193.0" y="1592.8" width="81.0" height="72.6" fill="#ffff33" fill-opacity="0.93"/>
<text class="lb" x="236.5" y="1641.6" font-family="Liberation Sans, Arial, sans-serif" font-weight="bold" font-size="43" fill="#111" style="stroke:#111" text-anchor="middle" textLength="48" lengthAdjust="spacingAndGlyphs">La</text>
<rect x="121.8" y="1592.8" width="79.0" height="72.6" fill="#ff3399" fill-opacity="0.93"/>
<text class="lb" x="164.3" y="1641.6" font-family="Liberation Sans, Arial, sans-serif" font-weight="bold" font-size="43" fill="#111" style="stroke:#111" text-anchor="middle" textLength="42" lengthAdjust="spacingAndGlyphs">Pt</text>
</g>
<path d="M121.0,2087.8H138.0M121.0,2044.6H138.0M121.0,2001.4H138.0M121.0,1958.2H138.0M121.0,1915.0H138.0M121.0,1871.9H138.0M121.0,1828.7H138.0M121.0,1785.5H138.0M121.0,1742.3H138.0M121.0,1699.1H138.0M121.0,1655.9H138.0M121.0,1612.7H138.0M121.0,1569.5H138.0M121.0,1526.3H138.0M121.0,1483.1H138.0M121.0,1440.0H138.0M121.0,1396.8H138.0M121.0,1353.6H138.0M121.0,1310.4H138.0M121.0,1267.2H138.0M121.0,1224.0H138.0M152.6,2087.8V2097.8M189.6,2087.8V2097.8M226.5,2087.8V2097.8M263.4,2087.8V2097.8M300.4,2087.8V2107.8M337.3,2087.8V2097.8M374.2,2087.8V2097.8M411.2,2087.8V2097.8M448.1,2087.8V2097.8M485.0,2087.8V2107.8M522.0,2087.8V2097.8M558.9,2087.8V2097.8M595.8,2087.8V2097.8M632.8,2087.8V2097.8M669.7,2087.8V2107.8M706.6,2087.8V2097.8M743.6,2087.8V2097.8M780.5,2087.8V2097.8M817.4,2087.8V2097.8M854.4,2087.8V2107.8M891.3,2087.8V2097.8M928.2,2087.8V2097.8M965.2,2087.8V2097.8M1002.1,2087.8V2097.8M1039.0,2087.8V2107.8M1076.0,2087.8V2097.8M1112.9,2087.8V2097.8M1149.9,2087.8V2097.8M1186.8,2087.8V2097.8M1223.7,2087.8V2107.8M1260.7,2087.8V2097.8M1297.6,2087.8V2097.8M1334.5,2087.8V2097.8M1371.5,2087.8V2097.8M1408.4,2087.8V2107.8M1445.3,2087.8V2097.8M1482.3,2087.8V2097.8M1519.2,2087.8V2097.8M1556.1,2087.8V2097.8M1593.1,2087.8V2107.8M1630.0,2087.8V2097.8M1666.9,2087.8V2097.8M1703.9,2087.8V2097.8M1740.8,2087.8V2097.8M1777.7,2087.8V2107.8M1814.7,2087.8V2097.8M1851.6,2087.8V2097.8M1888.5,2087.8V2097.8M1925.5,2087.8V2097.8M1962.4,2087.8V2107.8" stroke="#5a5a5a" stroke-width="4.5" fill="none"/>
<text x="107" y="2104.8" font-size="47" text-anchor="end">0</text>
<text x="107" y="1932.0" font-size="47" text-anchor="end">20</text>
<text x="107" y="1759.3" font-size="47" text-anchor="end">40</text>
<text x="107" y="1586.5" font-size="47" text-anchor="end">60</text>
<text x="107" y="1413.8" font-size="47" text-anchor="end">80</text>
<text x="107" y="1241.0" font-size="47" text-anchor="end">100</text>
<text x="300.9" y="2162.0" font-size="47" text-anchor="middle">1</text>
<text x="485.5" y="2162.0" font-size="47" text-anchor="middle">2</text>
<text x="670.2" y="2162.0" font-size="47" text-anchor="middle">3</text>
<text x="854.9" y="2162.0" font-size="47" text-anchor="middle">4</text>
<text x="1039.5" y="2162.0" font-size="47" text-anchor="middle">5</text>
<text x="1224.2" y="2162.0" font-size="47" text-anchor="middle">6</text>
<text x="1408.9" y="2162.0" font-size="47" text-anchor="middle">7</text>
<text x="1593.6" y="2162.0" font-size="47" text-anchor="middle">8</text>
<text x="1778.2" y="2162.0" font-size="47" text-anchor="middle">9</text>
<text x="1962.9" y="2162.0" font-size="47" text-anchor="middle">10</text>
<text x="147" y="1193.4" font-size="50" textLength="149" lengthAdjust="spacingAndGlyphs">cps/eV</text>
<text x="915" y="2230.0" font-size="50" textLength="266" lengthAdjust="spacingAndGlyphs">Energy [keV]</text>
<text class="tt" x="1547" y="1325.5" font-size="84" font-weight="bold" fill="#000" textLength="337" lengthAdjust="spacingAndGlyphs">Pt-LHA-1</text>
</svg>
</body></html>
